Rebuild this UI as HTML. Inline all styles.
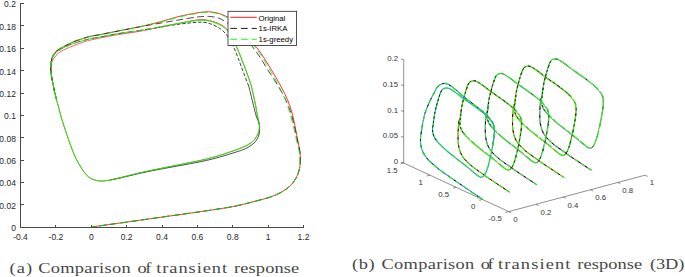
<!DOCTYPE html>
<html><head><meta charset="utf-8"><style>
html,body{margin:0;padding:0;background:#fff;}
body{width:685px;height:277px;overflow:hidden;position:relative;}
svg{position:absolute;left:0;top:0;}
</style></head><body>
<svg width="685" height="277" viewBox="0 0 685 277">

<g stroke="#4a4a4a" stroke-width="1" fill="none" shape-rendering="crispEdges">
<path d="M20.5,3 V227.5 H303.5"/>
<path d="M20.5,227.30 h3"/>
<path d="M20.5,204.92 h3"/>
<path d="M20.5,182.54 h3"/>
<path d="M20.5,160.16 h3"/>
<path d="M20.5,137.78 h3"/>
<path d="M20.5,115.40 h3"/>
<path d="M20.5,93.02 h3"/>
<path d="M20.5,70.64 h3"/>
<path d="M20.5,48.26 h3"/>
<path d="M20.5,25.88 h3"/>
<path d="M20.5,3.50 h3"/>
<path d="M20.50,227.5 v-3"/>
<path d="M55.88,227.5 v-3"/>
<path d="M91.25,227.5 v-3"/>
<path d="M126.62,227.5 v-3"/>
<path d="M162.00,227.5 v-3"/>
<path d="M197.38,227.5 v-3"/>
<path d="M232.75,227.5 v-3"/>
<path d="M268.12,227.5 v-3"/>
<path d="M303.50,227.5 v-3"/>
</g>
<g font-family="Liberation Sans, sans-serif" font-size="8.5" fill="#262626">
<text x="15.9" y="231.20" text-anchor="end">0</text>
<text x="15.9" y="208.82" text-anchor="end">0.02</text>
<text x="15.9" y="186.44" text-anchor="end">0.04</text>
<text x="15.9" y="164.06" text-anchor="end">0.06</text>
<text x="15.9" y="141.68" text-anchor="end">0.08</text>
<text x="15.9" y="119.30" text-anchor="end">0.1</text>
<text x="15.9" y="96.92" text-anchor="end">0.12</text>
<text x="15.9" y="74.54" text-anchor="end">0.14</text>
<text x="15.9" y="52.16" text-anchor="end">0.16</text>
<text x="15.9" y="29.78" text-anchor="end">0.18</text>
<text x="15.9" y="7.40" text-anchor="end">0.2</text>
<text x="20.50" y="240" text-anchor="middle">-0.4</text>
<text x="55.88" y="240" text-anchor="middle">-0.2</text>
<text x="91.25" y="240" text-anchor="middle">0</text>
<text x="126.62" y="240" text-anchor="middle">0.2</text>
<text x="162.00" y="240" text-anchor="middle">0.4</text>
<text x="197.38" y="240" text-anchor="middle">0.6</text>
<text x="232.75" y="240" text-anchor="middle">0.8</text>
<text x="268.12" y="240" text-anchor="middle">1</text>
<text x="303.50" y="240" text-anchor="middle">1.2</text>
</g>
<g fill="none" stroke-width="0.75">
<path d="M91.30,227.00 C97.20,226.18 114.95,223.75 126.70,222.10 C138.45,220.45 150.12,218.75 161.80,217.10 C173.48,215.45 185.43,213.87 196.80,212.20 C208.17,210.53 221.93,208.50 230.00,207.10 C238.07,205.70 240.53,204.90 245.20,203.80 C249.87,202.70 253.87,201.60 258.00,200.50 C262.13,199.40 266.23,198.52 270.00,197.20 C273.77,195.88 277.35,194.38 280.60,192.60 C283.85,190.82 286.97,188.85 289.50,186.50 C292.03,184.15 294.18,181.25 295.80,178.50 C297.42,175.75 298.45,172.92 299.20,170.00 C299.95,167.08 300.20,164.17 300.30,161.00 C300.40,157.83 300.25,154.50 299.80,151.00 C299.35,147.50 298.30,143.67 297.60,140.00 C296.90,136.33 296.48,133.33 295.60,129.00 C294.72,124.67 293.63,118.83 292.30,114.00 C290.97,109.17 289.62,104.83 287.60,100.00 C285.58,95.17 282.88,90.00 280.20,85.00 C277.52,80.00 274.40,74.83 271.50,70.00 C268.60,65.17 265.58,60.17 262.80,56.00 C260.02,51.83 257.57,48.83 254.80,45.00 C252.03,41.17 249.08,36.57 246.20,33.00 C243.32,29.43 240.40,26.13 237.50,23.60 C234.60,21.07 231.78,19.47 228.80,17.80 C225.82,16.13 222.95,14.60 219.60,13.60 C216.25,12.60 212.62,11.90 208.70,11.80 C204.78,11.70 201.22,12.18 196.10,13.00 C190.98,13.82 184.02,15.22 178.00,16.70 C171.98,18.18 166.33,20.23 160.00,21.90 C153.67,23.57 146.67,25.25 140.00,26.70 C133.33,28.15 126.67,29.28 120.00,30.60 C113.33,31.92 105.00,33.63 100.00,34.60 C95.00,35.57 92.50,35.85 90.00,36.40 C87.50,36.95 87.67,37.03 85.00,37.90 C82.33,38.77 77.22,40.32 74.00,41.60 C70.78,42.88 68.30,44.27 65.70,45.60 C63.10,46.93 60.33,48.25 58.40,49.60 C56.47,50.95 55.18,52.20 54.10,53.70 C53.02,55.20 52.43,56.80 51.90,58.60 C51.37,60.40 51.07,62.30 50.90,64.50 C50.73,66.70 50.62,68.88 50.90,71.80 C51.18,74.72 51.98,78.63 52.60,82.00 C53.22,85.37 53.93,89.00 54.60,92.00 C55.27,95.00 56.27,98.67 56.60,100.00" stroke="#ff0000" stroke-width="0.8"/>
<path d="M54.60,92.00 C55.27,95.00 55.90,97.33 56.60,100.00 C57.30,102.67 57.95,104.85 58.80,108.00 C59.65,111.15 60.58,115.15 61.70,118.90 C62.82,122.65 64.30,126.90 65.50,130.50 C66.70,134.10 67.77,137.25 68.90,140.50 C70.03,143.75 71.10,146.98 72.30,150.00 C73.50,153.02 74.65,155.68 76.10,158.60 C77.55,161.52 79.20,164.72 81.00,167.50 C82.80,170.28 84.90,173.30 86.90,175.30 C88.90,177.30 90.58,178.53 93.00,179.50 C95.42,180.47 98.57,181.02 101.40,181.10 C104.23,181.18 106.90,180.55 110.00,180.00 C113.10,179.45 114.83,179.03 120.00,177.80 C125.17,176.57 133.78,174.25 141.00,172.60 C148.22,170.95 155.97,169.40 163.30,167.90 C170.63,166.40 177.77,165.08 185.00,163.60 C192.23,162.12 200.20,160.60 206.70,159.00 C213.20,157.40 218.70,155.67 224.00,154.00 C229.30,152.33 235.50,150.07 238.50,149.00 C241.50,147.93 240.55,148.23 242.00,147.60 C243.45,146.97 245.38,146.25 247.20,145.20 C249.02,144.15 251.42,142.63 252.90,141.30 C254.38,139.97 255.23,138.50 256.10,137.20 C256.97,135.90 257.58,134.70 258.10,133.50 C258.62,132.30 259.00,131.58 259.20,130.00 C259.40,128.42 259.55,126.17 259.30,124.00 C259.05,121.83 258.18,119.33 257.70,117.00 C257.22,114.67 256.83,112.33 256.40,110.00 C255.97,107.67 255.95,107.00 255.10,103.00 C254.25,99.00 252.73,91.17 251.30,86.00 C249.87,80.83 248.18,76.67 246.50,72.00 C244.82,67.33 242.85,62.17 241.20,58.00 C239.55,53.83 238.08,50.33 236.60,47.00 C235.12,43.67 233.77,40.80 232.30,38.00 C230.83,35.20 229.52,32.33 227.80,30.20 C226.08,28.07 224.30,26.62 222.00,25.20 C219.70,23.78 216.83,22.62 214.00,21.70 C211.17,20.78 208.00,19.98 205.00,19.70 C202.00,19.42 200.50,19.37 196.00,20.00 C191.50,20.63 184.00,22.33 178.00,23.50 C172.00,24.67 166.33,25.70 160.00,27.00 C153.67,28.30 146.67,30.08 140.00,31.30 C133.33,32.52 126.67,33.18 120.00,34.30 C113.33,35.42 105.00,37.02 100.00,38.00 C95.00,38.98 92.50,39.62 90.00,40.20 C87.50,40.78 87.67,40.62 85.00,41.50 C82.33,42.38 77.22,44.25 74.00,45.50 C70.78,46.75 68.30,47.75 65.70,49.00 C63.10,50.25 60.12,51.73 58.40,53.00 C56.67,54.27 56.32,55.40 55.35,56.60 C54.38,57.80 53.28,58.80 52.60,60.20 C51.92,61.60 51.52,63.03 51.25,65.00 C50.98,66.97 50.77,69.17 51.00,72.00 C51.23,74.83 52.00,78.67 52.60,82.00 C53.20,85.33 53.93,89.00 54.60,92.00Z" stroke="#ff0000" stroke-width="0.65"/>
<path d="M91.30,227.00 C97.20,226.18 114.95,223.75 126.70,222.10 C138.45,220.45 150.12,218.75 161.80,217.10 C173.48,215.45 185.43,213.87 196.80,212.20 C208.17,210.53 221.93,208.50 230.00,207.10 C238.07,205.70 240.53,204.90 245.20,203.80 C249.87,202.70 253.87,201.60 258.00,200.50 C262.13,199.40 266.23,198.52 270.00,197.20 C273.77,195.88 277.35,194.38 280.60,192.60 C283.85,190.82 286.97,188.85 289.50,186.50 C292.03,184.15 294.18,181.25 295.80,178.50 C297.42,175.75 298.45,172.92 299.20,170.00 C299.95,167.08 300.20,164.17 300.30,161.00 C300.40,157.83 300.30,154.50 299.80,151.00 C299.30,147.50 298.11,143.67 297.30,140.00 C296.50,136.33 295.98,133.33 294.97,129.00 C293.96,124.67 292.75,118.83 291.22,114.00 C289.69,109.17 288.09,104.83 285.80,100.00 C283.51,95.17 280.48,90.00 277.50,85.00 C274.52,80.00 270.95,74.83 267.90,70.00 C264.85,65.17 261.98,60.17 259.20,56.00 C256.42,51.83 253.97,48.83 251.20,45.00 C248.43,41.17 245.30,35.80 242.60,33.00 C239.90,30.20 237.68,29.97 235.00,28.20 C232.32,26.43 229.19,24.07 226.50,22.40 C223.81,20.73 221.80,19.20 218.83,18.20 C215.87,17.20 212.49,16.57 208.70,16.40 C204.91,16.23 201.22,16.54 196.10,17.16 C190.98,17.77 184.02,19.09 178.00,20.10 C171.98,21.11 166.33,22.10 160.00,23.20 C153.67,24.30 146.67,25.47 140.00,26.70 C133.33,27.93 126.67,29.28 120.00,30.60 C113.33,31.92 105.00,33.63 100.00,34.60 C95.00,35.57 92.50,35.85 90.00,36.40 C87.50,36.95 87.67,37.03 85.00,37.90 C82.33,38.77 77.22,40.32 74.00,41.60 C70.78,42.88 68.30,44.27 65.70,45.60 C63.10,46.93 60.33,48.25 58.40,49.60 C56.47,50.95 55.18,52.20 54.10,53.70 C53.02,55.20 52.43,56.80 51.90,58.60 C51.37,60.40 51.07,62.30 50.90,64.50 C50.73,66.70 50.62,68.88 50.90,71.80 C51.18,74.72 51.98,78.63 52.60,82.00 C53.22,85.37 53.93,89.00 54.60,92.00 C55.27,95.00 56.27,98.67 56.60,100.00" stroke="#000000" stroke-width="0.7" stroke-dasharray="7,3.5" stroke-dashoffset="2"/>
<path d="M110.00,180.00 C111.67,179.67 114.83,179.16 120.00,178.00 C125.17,176.84 133.78,174.62 141.00,173.05 C148.22,171.48 155.97,170.00 163.30,168.60 C170.63,167.20 177.77,166.02 185.00,164.65 C192.23,163.28 200.20,161.88 206.70,160.40 C213.20,158.93 218.67,157.33 224.00,155.80 C229.33,154.27 235.62,152.18 238.70,151.20 C241.78,150.22 240.93,150.55 242.50,149.90 C244.07,149.25 246.15,148.47 248.10,147.30 C250.05,146.13 252.62,144.40 254.20,142.90 C255.78,141.40 256.78,139.78 257.60,138.30 C258.42,136.82 258.77,135.38 259.10,134.00 C259.43,132.62 259.57,131.67 259.60,130.00 C259.63,128.33 259.82,126.17 259.30,124.00 C258.78,121.83 257.28,119.33 256.50,117.00 C255.72,114.67 255.20,112.33 254.60,110.00 C254.00,107.67 253.88,107.00 252.90,103.00 C251.92,99.00 249.40,88.83 248.70,86.00" stroke="#000000" stroke-width="0.7"/>
<path d="M248.70,86.00 C247.80,83.67 245.07,76.67 243.30,72.00 C241.53,67.33 239.72,62.17 238.10,58.00 C236.48,53.83 235.07,50.20 233.60,47.00 C232.13,43.80 230.67,41.07 229.30,38.80 C227.93,36.53 226.88,35.07 225.40,33.40 C223.92,31.73 222.43,30.22 220.40,28.80 C218.37,27.38 215.77,25.95 213.20,24.90 C210.63,23.85 207.87,22.92 205.00,22.50 C202.13,22.08 200.50,22.10 196.00,22.40 C191.50,22.70 184.00,23.50 178.00,24.30 C172.00,25.10 163.00,26.72 160.00,27.20" stroke="#000000" stroke-width="0.75" stroke-dasharray="3.5,1.8"/>
<path d="M160.00,27.20 C156.67,27.73 146.67,29.38 140.00,30.40 C133.33,31.42 126.67,32.20 120.00,33.30 C113.33,34.40 105.00,36.08 100.00,37.00 C95.00,37.92 92.50,38.28 90.00,38.80 C87.50,39.32 87.67,39.35 85.00,40.10 C82.33,40.85 77.22,42.20 74.00,43.30 C70.78,44.40 68.30,45.48 65.70,46.70 C63.10,47.92 60.30,49.30 58.40,50.60 C56.50,51.90 55.37,53.10 54.30,54.50 C53.23,55.90 52.55,57.33 52.00,59.00 C51.45,60.67 51.17,62.33 51.00,64.50 C50.83,66.67 50.73,69.08 51.00,72.00 C51.27,74.92 52.00,78.67 52.60,82.00 C53.20,85.33 54.27,90.33 54.60,92.00" stroke="#000000" stroke-width="0.7" stroke-dasharray="6,3"/>
<path d="M91.30,227.00 C97.20,226.18 114.95,223.75 126.70,222.10 C138.45,220.45 150.12,218.75 161.80,217.10 C173.48,215.45 185.43,213.87 196.80,212.20 C208.17,210.53 221.93,208.50 230.00,207.10 C238.07,205.70 240.53,204.90 245.20,203.80 C249.87,202.70 253.87,201.60 258.00,200.50 C262.13,199.40 266.23,198.52 270.00,197.20 C273.77,195.88 277.35,194.38 280.60,192.60 C283.85,190.82 286.97,188.85 289.50,186.50 C292.03,184.15 294.18,181.25 295.80,178.50 C297.42,175.75 298.51,172.92 299.20,170.00 C299.89,167.08 299.98,164.17 299.95,161.00 C299.93,157.83 299.66,154.50 299.07,151.00 C298.49,147.50 297.29,143.67 296.45,140.00 C295.61,136.33 295.08,133.33 294.03,129.00 C292.98,124.67 291.57,118.83 290.15,114.00 C288.73,109.17 287.46,104.83 285.50,100.00 C283.54,95.17 280.98,90.00 278.40,85.00 C275.82,80.00 272.80,74.83 270.00,70.00 C267.20,65.17 264.28,60.17 261.58,56.00 C258.88,51.83 256.36,48.83 253.80,45.00 C251.24,41.17 248.92,36.47 246.20,33.00 C243.48,29.53 240.40,26.63 237.50,24.20 C234.60,21.77 231.78,20.07 228.80,18.40 C225.82,16.73 222.95,15.20 219.60,14.20 C216.25,13.20 212.62,12.50 208.70,12.40 C204.78,12.30 201.22,12.78 196.10,13.60 C190.98,14.42 184.02,15.87 178.00,17.30 C171.98,18.73 166.33,20.63 160.00,22.20 C153.67,23.77 146.67,25.30 140.00,26.70 C133.33,28.10 126.67,29.28 120.00,30.60 C113.33,31.92 105.00,33.63 100.00,34.60 C95.00,35.57 92.50,35.85 90.00,36.40 C87.50,36.95 87.67,37.03 85.00,37.90 C82.33,38.77 77.22,40.32 74.00,41.60 C70.78,42.88 68.30,44.27 65.70,45.60 C63.10,46.93 60.33,48.25 58.40,49.60 C56.47,50.95 55.18,52.20 54.10,53.70 C53.02,55.20 52.43,56.80 51.90,58.60 C51.37,60.40 51.07,62.30 50.90,64.50 C50.73,66.70 50.62,68.88 50.90,71.80 C51.18,74.72 51.98,78.63 52.60,82.00 C53.22,85.37 53.93,89.00 54.60,92.00 C55.27,95.00 56.27,98.67 56.60,100.00" stroke="#10f010" stroke-width="0.85" stroke-dasharray="7,3.5" stroke-dashoffset="2"/>
<path d="M54.60,92.00 C54.93,93.33 55.90,97.33 56.60,100.00 C57.30,102.67 57.95,104.85 58.80,108.00 C59.65,111.15 60.58,115.15 61.70,118.90 C62.82,122.65 64.30,126.90 65.50,130.50 C66.70,134.10 67.77,137.25 68.90,140.50 C70.03,143.75 71.10,146.98 72.30,150.00 C73.50,153.02 74.65,155.68 76.10,158.60 C77.55,161.52 79.20,164.72 81.00,167.50 C82.80,170.28 84.90,173.30 86.90,175.30 C88.90,177.30 90.58,178.53 93.00,179.50 C95.42,180.47 98.57,181.02 101.40,181.10 C104.23,181.18 106.90,180.55 110.00,180.00 C113.10,179.45 114.83,179.03 120.00,177.80 C125.17,176.57 133.78,174.25 141.00,172.60 C148.22,170.95 155.97,169.40 163.30,167.90 C170.63,166.40 177.77,165.08 185.00,163.60 C192.23,162.12 200.20,160.60 206.70,159.00 C213.20,157.40 218.70,155.67 224.00,154.00 C229.30,152.33 235.50,150.07 238.50,149.00 C241.50,147.93 240.55,148.23 242.00,147.60 C243.45,146.97 245.38,146.25 247.20,145.20 C249.02,144.15 251.42,142.63 252.90,141.30 C254.38,139.97 255.23,138.50 256.10,137.20 C256.97,135.90 257.58,134.70 258.10,133.50 C258.62,132.30 259.00,131.58 259.20,130.00 C259.40,128.42 259.55,126.17 259.30,124.00 C259.05,121.83 258.18,119.33 257.70,117.00 C257.22,114.67 256.83,112.33 256.40,110.00 C255.97,107.67 255.95,107.00 255.10,103.00 C254.25,99.00 252.73,91.17 251.30,86.00 C249.87,80.83 248.18,76.67 246.50,72.00 C244.82,67.33 242.85,62.17 241.20,58.00 C239.55,53.83 238.08,50.33 236.60,47.00 C235.12,43.67 233.77,40.67 232.30,38.00 C230.83,35.33 229.52,33.00 227.80,31.00 C226.08,29.00 224.30,27.42 222.00,26.00 C219.70,24.58 216.83,23.42 214.00,22.50 C211.17,21.58 208.00,20.78 205.00,20.50 C202.00,20.22 200.50,20.30 196.00,20.80 C191.50,21.30 184.00,22.47 178.00,23.50 C172.00,24.53 163.00,26.42 160.00,27.00" stroke="#10f010" stroke-width="0.95"/>
<path d="M160.00,27.00 C156.67,27.57 146.67,29.35 140.00,30.40 C133.33,31.45 126.67,32.20 120.00,33.30 C113.33,34.40 105.00,36.08 100.00,37.00 C95.00,37.92 92.50,38.28 90.00,38.80 C87.50,39.32 87.67,39.35 85.00,40.10 C82.33,40.85 77.22,42.20 74.00,43.30 C70.78,44.40 68.30,45.48 65.70,46.70 C63.10,47.92 60.30,49.30 58.40,50.60 C56.50,51.90 55.37,53.10 54.30,54.50 C53.23,55.90 52.55,57.33 52.00,59.00 C51.45,60.67 51.17,62.33 51.00,64.50 C50.83,66.67 50.73,69.08 51.00,72.00 C51.27,74.92 52.00,78.67 52.60,82.00 C53.20,85.33 54.27,90.33 54.60,92.00" stroke="#10f010" stroke-width="0.9" stroke-dasharray="6,2.5" stroke-dashoffset="1"/>
</g>
<rect x="228" y="11.3" width="68.6" height="34.2" fill="#fff" stroke="#262626" stroke-width="0.8"/>
<g stroke-width="0.9">
<path d="M230.3,17.3 H256.8" stroke="#ff0000"/>
<path d="M230.3,28.4 H256.8" stroke="#000" stroke-dasharray="6.7,4"/>
<path d="M230.3,39.3 H256.8" stroke="#00ff00" stroke-dasharray="6.7,4"/>
</g>
<g font-family="Liberation Sans, sans-serif" font-size="7.75" fill="#000">
<text x="258.6" y="20.7">Original</text>
<text x="258.6" y="31.4">1s-IRKA</text>
<text x="258.6" y="41.6">1s-greedy</text>
</g>
<g stroke="#444" stroke-width="0.6" fill="none">
<path d="M403.70,163.00 L508.70,211.60 L645.00,175.20"/>
<path d="M403.70,163.00 L403.70,59.60"/>
<path d="M403.70,163.00 l-2.8,-0.6"/>
<path d="M403.70,137.15 l-2.8,-0.6"/>
<path d="M403.70,111.30 l-2.8,-0.6"/>
<path d="M403.70,85.45 l-2.8,-0.6"/>
<path d="M403.70,59.60 l-2.8,-0.6"/>
<path d="M403.70,163.00 l-3.27,0.87"/>
<path d="M429.95,175.15 l-3.27,0.87"/>
<path d="M456.20,187.30 l-3.27,0.87"/>
<path d="M482.45,199.45 l-3.27,0.87"/>
<path d="M508.70,211.60 l-3.27,0.87"/>
<path d="M508.70,211.60 l2.62,1.22"/>
<path d="M535.96,204.32 l2.62,1.22"/>
<path d="M563.22,197.04 l2.62,1.22"/>
<path d="M590.48,189.76 l2.62,1.22"/>
<path d="M617.74,182.48 l2.62,1.22"/>
<path d="M645.00,175.20 l2.62,1.22"/>
</g>
<g font-family="Liberation Sans, sans-serif" font-size="7.8" fill="#333">
<text x="398" y="164.30" text-anchor="end">0</text>
<text x="398" y="138.45" text-anchor="end">0.05</text>
<text x="398" y="112.60" text-anchor="end">0.1</text>
<text x="398" y="86.75" text-anchor="end">0.15</text>
<text x="398" y="60.90" text-anchor="end">0.2</text>
<text x="397.6" y="173.4" text-anchor="end">1.5</text>
<text x="422.8" y="184.6" text-anchor="end">1</text>
<text x="449.0" y="197.0" text-anchor="end">0.5</text>
<text x="475.3" y="209.0" text-anchor="end">0</text>
<text x="501.8" y="221.2" text-anchor="end">-0.5</text>
<text x="513.2" y="221.7">0</text>
<text x="540.5" y="214.9">0.2</text>
<text x="567.4" y="207.7">0.4</text>
<text x="595.2" y="200.1">0.6</text>
<text x="622.3" y="193.0">0.8</text>
<text x="649.8" y="185.0">1</text>
</g>
<g fill="none">
<path d="M591.49,170.33 C589.74,169.18 584.49,165.71 580.99,163.40 C577.49,161.09 573.55,158.58 570.49,156.47 C567.43,154.37 565.07,152.50 562.62,150.76 C560.16,149.02 557.80,147.59 555.79,146.05 C553.78,144.52 552.29,143.22 550.54,141.55 C548.79,139.88 546.69,137.88 545.29,136.02 C543.89,134.17 542.97,132.54 542.14,130.43 C541.31,128.32 540.70,125.88 540.30,123.37 C539.91,120.86 539.80,118.40 539.78,115.37 C539.75,112.35 539.97,107.97 540.14,105.20 C540.32,102.44 540.50,100.25 540.83,98.80 C541.15,97.35 541.81,97.39 542.08,96.50 C542.36,95.61 542.41,93.96 542.47,93.45" stroke="#c070c8" stroke-width="1.15"/>
<path d="M591.49,170.33 C589.74,169.18 584.49,165.71 580.99,163.40 C577.49,161.09 573.55,158.58 570.49,156.47 C567.43,154.37 565.07,152.50 562.62,150.76 C560.16,149.02 557.80,147.59 555.79,146.05 C553.78,144.52 552.29,143.22 550.54,141.55 C548.79,139.88 546.69,137.88 545.29,136.02 C543.89,134.17 542.97,132.54 542.14,130.43 C541.31,128.32 540.70,125.88 540.30,123.37 C539.91,120.86 539.80,118.40 539.78,115.37 C539.75,112.35 539.97,107.97 540.14,105.20 C540.32,102.44 540.50,100.25 540.83,98.80 C541.15,97.35 541.81,97.39 542.08,96.50 C542.36,95.61 542.41,93.96 542.47,93.45" stroke="#000" stroke-width="0.95" stroke-dasharray="3,5" stroke-dashoffset="3"/>
<path d="M591.49,170.33 C589.74,169.18 584.49,165.71 580.99,163.40 C577.49,161.09 573.55,158.58 570.49,156.47 C567.43,154.37 565.07,152.50 562.62,150.76 C560.16,149.02 557.80,147.59 555.79,146.05 C553.78,144.52 552.29,143.22 550.54,141.55 C548.79,139.88 546.69,137.88 545.29,136.02 C543.89,134.17 542.97,132.54 542.14,130.43 C541.31,128.32 540.70,125.88 540.30,123.37 C539.91,120.86 539.80,118.40 539.78,115.37 C539.75,112.35 539.97,107.97 540.14,105.20 C540.32,102.44 540.50,100.25 540.83,98.80 C541.15,97.35 541.81,97.39 542.08,96.50 C542.36,95.61 542.41,93.96 542.47,93.45" stroke="#11ee11" stroke-width="1.1" stroke-dasharray="4,4"/>
<path d="M602.37,112.85 C602.17,114.15 601.98,115.14 601.77,116.28 C601.57,117.41 601.37,118.33 601.12,119.67 C600.87,121.01 600.59,122.73 600.26,124.31 C599.93,125.89 599.49,127.65 599.13,129.14 C598.78,130.64 598.46,131.95 598.12,133.30 C597.79,134.64 597.47,135.99 597.11,137.22 C596.76,138.45 596.42,139.52 595.99,140.67 C595.56,141.82 595.07,143.07 594.53,144.11 C594.00,145.15 593.37,146.25 592.78,146.90 C592.19,147.55 591.69,147.89 590.97,148.01 C590.25,148.12 589.32,147.94 588.48,147.59 C587.64,147.24 586.84,146.58 585.92,145.90 C585.00,145.22 584.49,144.79 582.96,143.51 C581.42,142.23 578.87,139.98 576.72,138.22 C574.58,136.47 572.28,134.69 570.10,132.99 C567.93,131.29 565.81,129.70 563.66,128.02 C561.52,126.34 559.15,124.55 557.22,122.91 C555.29,121.28 553.66,119.72 552.09,118.23 C550.51,116.73 548.67,114.83 547.78,113.92 C546.89,113.02 547.17,113.29 546.74,112.80 C546.31,112.30 545.74,111.71 545.20,110.97 C544.66,110.24 543.95,109.21 543.51,108.39 C543.07,107.57 542.82,106.77 542.56,106.05 C542.30,105.33 542.12,104.70 541.97,104.07 C541.81,103.44 541.70,103.06 541.64,102.30 C541.58,101.54 541.54,100.48 541.61,99.52 C541.68,98.55 541.94,97.51 542.08,96.50 C542.23,95.49 542.34,94.46 542.47,93.45 C542.60,92.43 542.60,92.12 542.86,90.39 C543.11,88.66 543.56,85.25 543.98,83.06 C544.41,80.87 544.91,79.17 545.41,77.25 C545.91,75.32 546.49,73.21 546.98,71.51 C547.47,69.81 547.91,68.40 548.35,67.06 C548.79,65.72 549.19,64.52 549.62,63.49 C550.06,62.46 550.45,61.56 550.96,60.88 C551.47,60.19 552.00,59.70 552.68,59.36 C553.36,59.02 554.21,58.88 555.06,58.84 C555.90,58.81 556.84,58.88 557.73,59.16 C558.62,59.44 559.06,59.68 560.40,60.53 C561.73,61.38 563.96,62.95 565.74,64.25 C567.52,65.55 569.20,66.94 571.08,68.34 C572.96,69.74 575.04,71.26 577.02,72.66 C579.00,74.06 580.98,75.32 582.96,76.75 C584.94,78.17 587.41,80.10 588.89,81.21 C590.38,82.32 591.12,82.83 591.86,83.41 C592.60,83.99 592.55,83.99 593.35,84.70 C594.14,85.41 595.66,86.74 596.61,87.69 C597.56,88.64 598.30,89.48 599.07,90.40 C599.85,91.32 600.68,92.34 601.24,93.20 C601.80,94.07 602.14,94.78 602.46,95.57 C602.77,96.36 602.98,97.12 603.14,97.96 C603.30,98.81 603.39,99.62 603.44,100.64 C603.49,101.67 603.52,102.80 603.44,104.11 C603.36,105.42 603.14,107.05 602.96,108.51 C602.78,109.97 602.57,111.56 602.37,112.85Z" stroke="#c070c8" stroke-width="1.0" transform="translate(-0.45,0.35)"/>
<path d="M602.37,112.85 C602.17,114.15 601.98,115.14 601.77,116.28 C601.57,117.41 601.37,118.33 601.12,119.67 C600.87,121.01 600.59,122.73 600.26,124.31 C599.93,125.89 599.49,127.65 599.13,129.14 C598.78,130.64 598.46,131.95 598.12,133.30 C597.79,134.64 597.47,135.99 597.11,137.22 C596.76,138.45 596.42,139.52 595.99,140.67 C595.56,141.82 595.07,143.07 594.53,144.11 C594.00,145.15 593.37,146.25 592.78,146.90 C592.19,147.55 591.69,147.89 590.97,148.01 C590.25,148.12 589.32,147.94 588.48,147.59 C587.64,147.24 586.84,146.58 585.92,145.90 C585.00,145.22 584.49,144.79 582.96,143.51 C581.42,142.23 578.87,139.98 576.72,138.22 C574.58,136.47 572.28,134.69 570.10,132.99 C567.93,131.29 565.81,129.70 563.66,128.02 C561.52,126.34 559.15,124.55 557.22,122.91 C555.29,121.28 553.66,119.72 552.09,118.23 C550.51,116.73 548.67,114.83 547.78,113.92 C546.89,113.02 547.17,113.29 546.74,112.80 C546.31,112.30 545.74,111.71 545.20,110.97 C544.66,110.24 543.95,109.21 543.51,108.39 C543.07,107.57 542.82,106.77 542.56,106.05 C542.30,105.33 542.12,104.70 541.97,104.07 C541.81,103.44 541.70,103.06 541.64,102.30 C541.58,101.54 541.54,100.48 541.61,99.52 C541.68,98.55 541.94,97.51 542.08,96.50 C542.23,95.49 542.34,94.46 542.47,93.45 C542.60,92.43 542.60,92.12 542.86,90.39 C543.11,88.66 543.56,85.25 543.98,83.06 C544.41,80.87 544.91,79.17 545.41,77.25 C545.91,75.32 546.49,73.21 546.98,71.51 C547.47,69.81 547.91,68.40 548.35,67.06 C548.79,65.72 549.19,64.52 549.62,63.49 C550.06,62.46 550.45,61.56 550.96,60.88 C551.47,60.19 552.00,59.70 552.68,59.36 C553.36,59.02 554.21,58.88 555.06,58.84 C555.90,58.81 556.84,58.88 557.73,59.16 C558.62,59.44 559.06,59.68 560.40,60.53 C561.73,61.38 563.96,62.95 565.74,64.25 C567.52,65.55 569.20,66.94 571.08,68.34 C572.96,69.74 575.04,71.26 577.02,72.66 C579.00,74.06 580.98,75.32 582.96,76.75 C584.94,78.17 587.41,80.10 588.89,81.21 C590.38,82.32 591.12,82.83 591.86,83.41 C592.60,83.99 592.55,83.99 593.35,84.70 C594.14,85.41 595.66,86.74 596.61,87.69 C597.56,88.64 598.30,89.48 599.07,90.40 C599.85,91.32 600.68,92.34 601.24,93.20 C601.80,94.07 602.14,94.78 602.46,95.57 C602.77,96.36 602.98,97.12 603.14,97.96 C603.30,98.81 603.39,99.62 603.44,100.64 C603.49,101.67 603.52,102.80 603.44,104.11 C603.36,105.42 603.14,107.05 602.96,108.51 C602.78,109.97 602.57,111.56 602.37,112.85Z" stroke="#000" stroke-width="0.9" stroke-dasharray="3,9" stroke-dashoffset="2"/>
<path d="M602.37,112.85 C602.17,114.15 601.98,115.14 601.77,116.28 C601.57,117.41 601.37,118.33 601.12,119.67 C600.87,121.01 600.59,122.73 600.26,124.31 C599.93,125.89 599.49,127.65 599.13,129.14 C598.78,130.64 598.46,131.95 598.12,133.30 C597.79,134.64 597.47,135.99 597.11,137.22 C596.76,138.45 596.42,139.52 595.99,140.67 C595.56,141.82 595.07,143.07 594.53,144.11 C594.00,145.15 593.37,146.25 592.78,146.90 C592.19,147.55 591.69,147.89 590.97,148.01 C590.25,148.12 589.32,147.94 588.48,147.59 C587.64,147.24 586.84,146.58 585.92,145.90 C585.00,145.22 584.49,144.79 582.96,143.51 C581.42,142.23 578.87,139.98 576.72,138.22 C574.58,136.47 572.28,134.69 570.10,132.99 C567.93,131.29 565.81,129.70 563.66,128.02 C561.52,126.34 559.15,124.55 557.22,122.91 C555.29,121.28 553.66,119.72 552.09,118.23 C550.51,116.73 548.67,114.83 547.78,113.92 C546.89,113.02 547.17,113.29 546.74,112.80 C546.31,112.30 545.74,111.71 545.20,110.97 C544.66,110.24 543.95,109.21 543.51,108.39 C543.07,107.57 542.82,106.77 542.56,106.05 C542.30,105.33 542.12,104.70 541.97,104.07 C541.81,103.44 541.70,103.06 541.64,102.30 C541.58,101.54 541.54,100.48 541.61,99.52 C541.68,98.55 541.94,97.51 542.08,96.50 C542.23,95.49 542.34,94.46 542.47,93.45 C542.60,92.43 542.60,92.12 542.86,90.39 C543.11,88.66 543.56,85.25 543.98,83.06 C544.41,80.87 544.91,79.17 545.41,77.25 C545.91,75.32 546.49,73.21 546.98,71.51 C547.47,69.81 547.91,68.40 548.35,67.06 C548.79,65.72 549.19,64.52 549.62,63.49 C550.06,62.46 550.45,61.56 550.96,60.88 C551.47,60.19 552.00,59.70 552.68,59.36 C553.36,59.02 554.21,58.88 555.06,58.84 C555.90,58.81 556.84,58.88 557.73,59.16 C558.62,59.44 559.06,59.68 560.40,60.53 C561.73,61.38 563.96,62.95 565.74,64.25 C567.52,65.55 569.20,66.94 571.08,68.34 C572.96,69.74 575.04,71.26 577.02,72.66 C579.00,74.06 580.98,75.32 582.96,76.75 C584.94,78.17 587.41,80.10 588.89,81.21 C590.38,82.32 591.12,82.83 591.86,83.41 C592.60,83.99 592.55,83.99 593.35,84.70 C594.14,85.41 595.66,86.74 596.61,87.69 C597.56,88.64 598.30,89.48 599.07,90.40 C599.85,91.32 600.68,92.34 601.24,93.20 C601.80,94.07 602.14,94.78 602.46,95.57 C602.77,96.36 602.98,97.12 603.14,97.96 C603.30,98.81 603.39,99.62 603.44,100.64 C603.49,101.67 603.52,102.80 603.44,104.11 C603.36,105.42 603.14,107.05 602.96,108.51 C602.78,109.97 602.57,111.56 602.37,112.85Z" stroke="#1ef01e" stroke-width="1.1" stroke-dasharray="16,1.5"/>
<path d="M545.20,110.97 C544.92,110.54 543.95,109.21 543.51,108.39 C543.07,107.57 542.82,106.77 542.56,106.05 C542.30,105.33 542.12,104.70 541.97,104.07 C541.81,103.44 541.70,103.06 541.64,102.30 C541.58,101.54 541.54,100.48 541.61,99.52 C541.68,98.55 541.94,97.51 542.08,96.50 C542.23,95.49 542.34,94.46 542.47,93.45 C542.60,92.43 542.60,92.12 542.86,90.39 C543.11,88.66 543.56,85.25 543.98,83.06 C544.41,80.87 544.91,79.17 545.41,77.25 C545.91,75.32 546.49,73.21 546.98,71.51 C547.47,69.81 547.91,68.40 548.35,67.06 C548.79,65.72 549.19,64.52 549.62,63.49 C550.06,62.46 550.74,61.31 550.96,60.88" stroke="#000" stroke-width="0.9" stroke-dasharray="2,2.5"/>
</g>
<g fill="none">
<path d="M564.23,177.61 C562.48,176.46 557.23,172.99 553.73,170.68 C550.23,168.37 546.29,165.86 543.23,163.75 C540.17,161.65 537.81,159.78 535.36,158.04 C532.90,156.30 530.54,154.87 528.53,153.33 C526.52,151.80 525.03,150.50 523.28,148.83 C521.53,147.16 519.43,145.16 518.03,143.30 C516.63,141.45 515.71,139.82 514.88,137.71 C514.05,135.60 513.44,133.16 513.04,130.65 C512.65,128.14 512.54,125.68 512.52,122.65 C512.49,119.63 512.71,115.25 512.88,112.48 C513.06,109.72 513.24,107.53 513.57,106.08 C513.89,104.63 514.55,104.67 514.82,103.78 C515.10,102.89 515.15,101.24 515.21,100.73" stroke="#e0943c" stroke-width="1.15"/>
<path d="M564.23,177.61 C562.48,176.46 557.23,172.99 553.73,170.68 C550.23,168.37 546.29,165.86 543.23,163.75 C540.17,161.65 537.81,159.78 535.36,158.04 C532.90,156.30 530.54,154.87 528.53,153.33 C526.52,151.80 525.03,150.50 523.28,148.83 C521.53,147.16 519.43,145.16 518.03,143.30 C516.63,141.45 515.71,139.82 514.88,137.71 C514.05,135.60 513.44,133.16 513.04,130.65 C512.65,128.14 512.54,125.68 512.52,122.65 C512.49,119.63 512.71,115.25 512.88,112.48 C513.06,109.72 513.24,107.53 513.57,106.08 C513.89,104.63 514.55,104.67 514.82,103.78 C515.10,102.89 515.15,101.24 515.21,100.73" stroke="#000" stroke-width="0.95" stroke-dasharray="3,5" stroke-dashoffset="3"/>
<path d="M564.23,177.61 C562.48,176.46 557.23,172.99 553.73,170.68 C550.23,168.37 546.29,165.86 543.23,163.75 C540.17,161.65 537.81,159.78 535.36,158.04 C532.90,156.30 530.54,154.87 528.53,153.33 C526.52,151.80 525.03,150.50 523.28,148.83 C521.53,147.16 519.43,145.16 518.03,143.30 C516.63,141.45 515.71,139.82 514.88,137.71 C514.05,135.60 513.44,133.16 513.04,130.65 C512.65,128.14 512.54,125.68 512.52,122.65 C512.49,119.63 512.71,115.25 512.88,112.48 C513.06,109.72 513.24,107.53 513.57,106.08 C513.89,104.63 514.55,104.67 514.82,103.78 C515.10,102.89 515.15,101.24 515.21,100.73" stroke="#11ee11" stroke-width="1.1" stroke-dasharray="4,4"/>
<path d="M575.11,120.13 C574.91,121.43 574.72,122.42 574.51,123.56 C574.31,124.69 574.11,125.61 573.86,126.95 C573.61,128.29 573.33,130.01 573.00,131.59 C572.67,133.17 572.23,134.93 571.87,136.42 C571.52,137.92 571.20,139.23 570.86,140.58 C570.53,141.92 570.21,143.27 569.85,144.50 C569.50,145.73 569.16,146.80 568.73,147.95 C568.30,149.10 567.81,150.35 567.27,151.39 C566.74,152.43 566.11,153.53 565.52,154.18 C564.93,154.83 564.43,155.17 563.71,155.29 C562.99,155.40 562.06,155.22 561.22,154.87 C560.38,154.52 559.58,153.86 558.66,153.18 C557.74,152.50 557.23,152.07 555.70,150.79 C554.16,149.51 551.61,147.26 549.46,145.50 C547.32,143.75 545.02,141.97 542.84,140.27 C540.67,138.57 538.55,136.98 536.40,135.30 C534.26,133.62 531.89,131.83 529.96,130.19 C528.03,128.56 526.40,127.00 524.83,125.51 C523.25,124.01 521.41,122.11 520.52,121.20 C519.63,120.30 519.91,120.57 519.48,120.08 C519.05,119.58 518.48,118.99 517.94,118.25 C517.40,117.52 516.69,116.49 516.25,115.67 C515.81,114.85 515.56,114.05 515.30,113.33 C515.04,112.61 514.86,111.98 514.71,111.35 C514.55,110.72 514.44,110.34 514.38,109.58 C514.32,108.82 514.28,107.76 514.35,106.80 C514.42,105.83 514.68,104.79 514.82,103.78 C514.97,102.77 515.08,101.74 515.21,100.73 C515.34,99.71 515.34,99.40 515.60,97.67 C515.85,95.94 516.30,92.53 516.72,90.34 C517.15,88.15 517.65,86.45 518.15,84.53 C518.65,82.60 519.23,80.49 519.72,78.79 C520.21,77.09 520.65,75.68 521.09,74.34 C521.53,73.00 521.93,71.80 522.36,70.77 C522.80,69.74 523.19,68.84 523.70,68.16 C524.21,67.47 524.74,66.98 525.42,66.64 C526.10,66.30 526.95,66.16 527.80,66.12 C528.64,66.09 529.58,66.16 530.47,66.44 C531.36,66.72 531.80,66.96 533.14,67.81 C534.47,68.66 536.70,70.23 538.48,71.53 C540.26,72.83 541.94,74.22 543.82,75.62 C545.70,77.02 547.78,78.54 549.76,79.94 C551.74,81.34 553.72,82.60 555.70,84.03 C557.68,85.45 560.15,87.38 561.63,88.49 C563.12,89.60 563.86,90.11 564.60,90.69 C565.34,91.27 565.29,91.27 566.09,91.98 C566.88,92.69 568.40,94.02 569.35,94.97 C570.30,95.92 571.04,96.76 571.81,97.68 C572.59,98.60 573.42,99.62 573.98,100.48 C574.54,101.35 574.88,102.06 575.20,102.85 C575.51,103.64 575.72,104.40 575.88,105.24 C576.04,106.09 576.13,106.90 576.18,107.92 C576.23,108.95 576.26,110.08 576.18,111.39 C576.10,112.70 575.88,114.33 575.70,115.79 C575.52,117.25 575.31,118.84 575.11,120.13Z" stroke="#e0943c" stroke-width="1.0" transform="translate(-0.45,0.35)"/>
<path d="M575.11,120.13 C574.91,121.43 574.72,122.42 574.51,123.56 C574.31,124.69 574.11,125.61 573.86,126.95 C573.61,128.29 573.33,130.01 573.00,131.59 C572.67,133.17 572.23,134.93 571.87,136.42 C571.52,137.92 571.20,139.23 570.86,140.58 C570.53,141.92 570.21,143.27 569.85,144.50 C569.50,145.73 569.16,146.80 568.73,147.95 C568.30,149.10 567.81,150.35 567.27,151.39 C566.74,152.43 566.11,153.53 565.52,154.18 C564.93,154.83 564.43,155.17 563.71,155.29 C562.99,155.40 562.06,155.22 561.22,154.87 C560.38,154.52 559.58,153.86 558.66,153.18 C557.74,152.50 557.23,152.07 555.70,150.79 C554.16,149.51 551.61,147.26 549.46,145.50 C547.32,143.75 545.02,141.97 542.84,140.27 C540.67,138.57 538.55,136.98 536.40,135.30 C534.26,133.62 531.89,131.83 529.96,130.19 C528.03,128.56 526.40,127.00 524.83,125.51 C523.25,124.01 521.41,122.11 520.52,121.20 C519.63,120.30 519.91,120.57 519.48,120.08 C519.05,119.58 518.48,118.99 517.94,118.25 C517.40,117.52 516.69,116.49 516.25,115.67 C515.81,114.85 515.56,114.05 515.30,113.33 C515.04,112.61 514.86,111.98 514.71,111.35 C514.55,110.72 514.44,110.34 514.38,109.58 C514.32,108.82 514.28,107.76 514.35,106.80 C514.42,105.83 514.68,104.79 514.82,103.78 C514.97,102.77 515.08,101.74 515.21,100.73 C515.34,99.71 515.34,99.40 515.60,97.67 C515.85,95.94 516.30,92.53 516.72,90.34 C517.15,88.15 517.65,86.45 518.15,84.53 C518.65,82.60 519.23,80.49 519.72,78.79 C520.21,77.09 520.65,75.68 521.09,74.34 C521.53,73.00 521.93,71.80 522.36,70.77 C522.80,69.74 523.19,68.84 523.70,68.16 C524.21,67.47 524.74,66.98 525.42,66.64 C526.10,66.30 526.95,66.16 527.80,66.12 C528.64,66.09 529.58,66.16 530.47,66.44 C531.36,66.72 531.80,66.96 533.14,67.81 C534.47,68.66 536.70,70.23 538.48,71.53 C540.26,72.83 541.94,74.22 543.82,75.62 C545.70,77.02 547.78,78.54 549.76,79.94 C551.74,81.34 553.72,82.60 555.70,84.03 C557.68,85.45 560.15,87.38 561.63,88.49 C563.12,89.60 563.86,90.11 564.60,90.69 C565.34,91.27 565.29,91.27 566.09,91.98 C566.88,92.69 568.40,94.02 569.35,94.97 C570.30,95.92 571.04,96.76 571.81,97.68 C572.59,98.60 573.42,99.62 573.98,100.48 C574.54,101.35 574.88,102.06 575.20,102.85 C575.51,103.64 575.72,104.40 575.88,105.24 C576.04,106.09 576.13,106.90 576.18,107.92 C576.23,108.95 576.26,110.08 576.18,111.39 C576.10,112.70 575.88,114.33 575.70,115.79 C575.52,117.25 575.31,118.84 575.11,120.13Z" stroke="#000" stroke-width="0.9" stroke-dasharray="3,9" stroke-dashoffset="2"/>
<path d="M575.11,120.13 C574.91,121.43 574.72,122.42 574.51,123.56 C574.31,124.69 574.11,125.61 573.86,126.95 C573.61,128.29 573.33,130.01 573.00,131.59 C572.67,133.17 572.23,134.93 571.87,136.42 C571.52,137.92 571.20,139.23 570.86,140.58 C570.53,141.92 570.21,143.27 569.85,144.50 C569.50,145.73 569.16,146.80 568.73,147.95 C568.30,149.10 567.81,150.35 567.27,151.39 C566.74,152.43 566.11,153.53 565.52,154.18 C564.93,154.83 564.43,155.17 563.71,155.29 C562.99,155.40 562.06,155.22 561.22,154.87 C560.38,154.52 559.58,153.86 558.66,153.18 C557.74,152.50 557.23,152.07 555.70,150.79 C554.16,149.51 551.61,147.26 549.46,145.50 C547.32,143.75 545.02,141.97 542.84,140.27 C540.67,138.57 538.55,136.98 536.40,135.30 C534.26,133.62 531.89,131.83 529.96,130.19 C528.03,128.56 526.40,127.00 524.83,125.51 C523.25,124.01 521.41,122.11 520.52,121.20 C519.63,120.30 519.91,120.57 519.48,120.08 C519.05,119.58 518.48,118.99 517.94,118.25 C517.40,117.52 516.69,116.49 516.25,115.67 C515.81,114.85 515.56,114.05 515.30,113.33 C515.04,112.61 514.86,111.98 514.71,111.35 C514.55,110.72 514.44,110.34 514.38,109.58 C514.32,108.82 514.28,107.76 514.35,106.80 C514.42,105.83 514.68,104.79 514.82,103.78 C514.97,102.77 515.08,101.74 515.21,100.73 C515.34,99.71 515.34,99.40 515.60,97.67 C515.85,95.94 516.30,92.53 516.72,90.34 C517.15,88.15 517.65,86.45 518.15,84.53 C518.65,82.60 519.23,80.49 519.72,78.79 C520.21,77.09 520.65,75.68 521.09,74.34 C521.53,73.00 521.93,71.80 522.36,70.77 C522.80,69.74 523.19,68.84 523.70,68.16 C524.21,67.47 524.74,66.98 525.42,66.64 C526.10,66.30 526.95,66.16 527.80,66.12 C528.64,66.09 529.58,66.16 530.47,66.44 C531.36,66.72 531.80,66.96 533.14,67.81 C534.47,68.66 536.70,70.23 538.48,71.53 C540.26,72.83 541.94,74.22 543.82,75.62 C545.70,77.02 547.78,78.54 549.76,79.94 C551.74,81.34 553.72,82.60 555.70,84.03 C557.68,85.45 560.15,87.38 561.63,88.49 C563.12,89.60 563.86,90.11 564.60,90.69 C565.34,91.27 565.29,91.27 566.09,91.98 C566.88,92.69 568.40,94.02 569.35,94.97 C570.30,95.92 571.04,96.76 571.81,97.68 C572.59,98.60 573.42,99.62 573.98,100.48 C574.54,101.35 574.88,102.06 575.20,102.85 C575.51,103.64 575.72,104.40 575.88,105.24 C576.04,106.09 576.13,106.90 576.18,107.92 C576.23,108.95 576.26,110.08 576.18,111.39 C576.10,112.70 575.88,114.33 575.70,115.79 C575.52,117.25 575.31,118.84 575.11,120.13Z" stroke="#1ef01e" stroke-width="1.1" stroke-dasharray="16,1.5"/>
<path d="M523.70,68.16 C523.99,67.90 524.74,66.98 525.42,66.64 C526.10,66.30 526.95,66.16 527.80,66.12 C528.64,66.09 529.58,66.16 530.47,66.44 C531.36,66.72 531.80,66.96 533.14,67.81 C534.47,68.66 536.70,70.23 538.48,71.53 C540.26,72.83 541.94,74.22 543.82,75.62 C545.70,77.02 547.78,78.54 549.76,79.94 C551.74,81.34 553.72,82.60 555.70,84.03 C557.68,85.45 560.15,87.38 561.63,88.49 C563.12,89.60 563.86,90.11 564.60,90.69 C565.34,91.27 565.29,91.27 566.09,91.98 C566.88,92.69 568.40,94.02 569.35,94.97 C570.30,95.92 571.40,97.23 571.81,97.68" stroke="#000" stroke-width="0.8" stroke-dasharray="2.5,2.5" opacity="0.8"/>
<path d="M576.18,107.92 C576.18,108.50 576.26,110.08 576.18,111.39 C576.10,112.70 575.88,114.33 575.70,115.79 C575.52,117.25 575.31,118.84 575.11,120.13 C574.91,121.43 574.72,122.42 574.51,123.56 C574.31,124.69 574.11,125.61 573.86,126.95 C573.61,128.29 573.33,130.01 573.00,131.59 C572.67,133.17 572.23,134.93 571.87,136.42 C571.52,137.92 571.20,139.23 570.86,140.58 C570.53,141.92 570.21,143.27 569.85,144.50 C569.50,145.73 569.16,146.80 568.73,147.95 C568.30,149.10 567.81,150.35 567.27,151.39 C566.74,152.43 565.81,153.72 565.52,154.18" stroke="#000" stroke-width="0.8" stroke-dasharray="2.5,3" opacity="0.85"/>
<path d="M517.94,118.25 C517.66,117.82 516.69,116.49 516.25,115.67 C515.81,114.85 515.56,114.05 515.30,113.33 C515.04,112.61 514.86,111.98 514.71,111.35 C514.55,110.72 514.44,110.34 514.38,109.58 C514.32,108.82 514.28,107.76 514.35,106.80 C514.42,105.83 514.68,104.79 514.82,103.78 C514.97,102.77 515.08,101.74 515.21,100.73 C515.34,99.71 515.34,99.40 515.60,97.67 C515.85,95.94 516.30,92.53 516.72,90.34 C517.15,88.15 517.65,86.45 518.15,84.53 C518.65,82.60 519.23,80.49 519.72,78.79 C520.21,77.09 520.65,75.68 521.09,74.34 C521.53,73.00 521.93,71.80 522.36,70.77 C522.80,69.74 523.48,68.59 523.70,68.16" stroke="#000" stroke-width="0.9" stroke-dasharray="2,2.5"/>
</g>
<g fill="none">
<path d="M536.97,184.89 C535.22,183.74 529.97,180.27 526.47,177.96 C522.97,175.65 519.03,173.14 515.97,171.03 C512.91,168.93 510.55,167.06 508.10,165.32 C505.65,163.58 503.28,162.15 501.27,160.61 C499.26,159.08 497.77,157.78 496.02,156.11 C494.27,154.44 492.17,152.44 490.77,150.58 C489.37,148.73 488.45,147.10 487.62,144.99 C486.79,142.88 486.18,140.44 485.78,137.93 C485.39,135.42 485.28,132.96 485.26,129.93 C485.23,126.91 485.45,122.53 485.62,119.76 C485.80,117.00 485.98,114.81 486.31,113.36 C486.63,111.91 487.29,111.95 487.56,111.06 C487.84,110.17 487.89,108.52 487.95,108.01" stroke="#c070c8" stroke-width="1.15"/>
<path d="M536.97,184.89 C535.22,183.74 529.97,180.27 526.47,177.96 C522.97,175.65 519.03,173.14 515.97,171.03 C512.91,168.93 510.55,167.06 508.10,165.32 C505.65,163.58 503.28,162.15 501.27,160.61 C499.26,159.08 497.77,157.78 496.02,156.11 C494.27,154.44 492.17,152.44 490.77,150.58 C489.37,148.73 488.45,147.10 487.62,144.99 C486.79,142.88 486.18,140.44 485.78,137.93 C485.39,135.42 485.28,132.96 485.26,129.93 C485.23,126.91 485.45,122.53 485.62,119.76 C485.80,117.00 485.98,114.81 486.31,113.36 C486.63,111.91 487.29,111.95 487.56,111.06 C487.84,110.17 487.89,108.52 487.95,108.01" stroke="#000" stroke-width="0.95" stroke-dasharray="3,5" stroke-dashoffset="3"/>
<path d="M536.97,184.89 C535.22,183.74 529.97,180.27 526.47,177.96 C522.97,175.65 519.03,173.14 515.97,171.03 C512.91,168.93 510.55,167.06 508.10,165.32 C505.65,163.58 503.28,162.15 501.27,160.61 C499.26,159.08 497.77,157.78 496.02,156.11 C494.27,154.44 492.17,152.44 490.77,150.58 C489.37,148.73 488.45,147.10 487.62,144.99 C486.79,142.88 486.18,140.44 485.78,137.93 C485.39,135.42 485.28,132.96 485.26,129.93 C485.23,126.91 485.45,122.53 485.62,119.76 C485.80,117.00 485.98,114.81 486.31,113.36 C486.63,111.91 487.29,111.95 487.56,111.06 C487.84,110.17 487.89,108.52 487.95,108.01" stroke="#11ee11" stroke-width="1.1" stroke-dasharray="4,4"/>
<path d="M547.85,127.41 C547.65,128.71 547.46,129.70 547.25,130.84 C547.05,131.97 546.85,132.89 546.60,134.23 C546.35,135.57 546.07,137.29 545.74,138.87 C545.41,140.45 544.97,142.21 544.61,143.70 C544.26,145.20 543.94,146.51 543.60,147.86 C543.27,149.20 542.95,150.55 542.59,151.78 C542.24,153.01 541.90,154.08 541.47,155.23 C541.04,156.38 540.55,157.63 540.01,158.67 C539.48,159.71 538.85,160.81 538.26,161.46 C537.67,162.11 537.17,162.45 536.45,162.57 C535.73,162.68 534.80,162.50 533.96,162.15 C533.12,161.80 532.32,161.14 531.40,160.46 C530.48,159.78 529.97,159.35 528.44,158.07 C526.90,156.79 524.35,154.54 522.20,152.78 C520.06,151.03 517.76,149.25 515.58,147.55 C513.41,145.85 511.29,144.26 509.14,142.58 C507.00,140.90 504.63,139.11 502.70,137.47 C500.77,135.84 499.14,134.28 497.57,132.79 C495.99,131.29 494.15,129.39 493.26,128.48 C492.37,127.58 492.65,127.85 492.22,127.36 C491.79,126.86 491.22,126.27 490.68,125.53 C490.14,124.80 489.43,123.77 488.99,122.95 C488.55,122.13 488.30,121.33 488.04,120.61 C487.78,119.89 487.60,119.26 487.45,118.63 C487.29,118.00 487.18,117.62 487.12,116.86 C487.06,116.10 487.02,115.04 487.09,114.08 C487.16,113.11 487.42,112.07 487.56,111.06 C487.71,110.05 487.82,109.02 487.95,108.01 C488.08,106.99 488.08,106.68 488.34,104.95 C488.59,103.22 489.04,99.81 489.46,97.62 C489.89,95.43 490.39,93.73 490.89,91.81 C491.39,89.88 491.97,87.77 492.46,86.07 C492.95,84.37 493.39,82.96 493.83,81.62 C494.27,80.28 494.67,79.08 495.10,78.05 C495.54,77.02 495.93,76.12 496.44,75.44 C496.95,74.75 497.48,74.26 498.16,73.92 C498.84,73.58 499.69,73.44 500.54,73.40 C501.38,73.37 502.32,73.44 503.21,73.72 C504.10,74.00 504.54,74.24 505.88,75.09 C507.21,75.94 509.44,77.51 511.22,78.81 C513.00,80.11 514.68,81.50 516.56,82.90 C518.44,84.30 520.52,85.82 522.50,87.22 C524.48,88.62 526.46,89.88 528.44,91.31 C530.42,92.73 532.89,94.66 534.37,95.77 C535.86,96.88 536.60,97.39 537.34,97.97 C538.08,98.55 538.03,98.55 538.83,99.26 C539.62,99.97 541.14,101.30 542.09,102.25 C543.04,103.20 543.78,104.04 544.55,104.96 C545.33,105.88 546.16,106.90 546.72,107.76 C547.28,108.63 547.62,109.34 547.94,110.13 C548.25,110.92 548.46,111.68 548.62,112.52 C548.78,113.37 548.87,114.18 548.92,115.20 C548.97,116.23 549.00,117.36 548.92,118.67 C548.84,119.98 548.62,121.61 548.44,123.07 C548.26,124.53 548.05,126.12 547.85,127.41Z" stroke="#c070c8" stroke-width="1.0" transform="translate(-0.45,0.35)"/>
<path d="M547.85,127.41 C547.65,128.71 547.46,129.70 547.25,130.84 C547.05,131.97 546.85,132.89 546.60,134.23 C546.35,135.57 546.07,137.29 545.74,138.87 C545.41,140.45 544.97,142.21 544.61,143.70 C544.26,145.20 543.94,146.51 543.60,147.86 C543.27,149.20 542.95,150.55 542.59,151.78 C542.24,153.01 541.90,154.08 541.47,155.23 C541.04,156.38 540.55,157.63 540.01,158.67 C539.48,159.71 538.85,160.81 538.26,161.46 C537.67,162.11 537.17,162.45 536.45,162.57 C535.73,162.68 534.80,162.50 533.96,162.15 C533.12,161.80 532.32,161.14 531.40,160.46 C530.48,159.78 529.97,159.35 528.44,158.07 C526.90,156.79 524.35,154.54 522.20,152.78 C520.06,151.03 517.76,149.25 515.58,147.55 C513.41,145.85 511.29,144.26 509.14,142.58 C507.00,140.90 504.63,139.11 502.70,137.47 C500.77,135.84 499.14,134.28 497.57,132.79 C495.99,131.29 494.15,129.39 493.26,128.48 C492.37,127.58 492.65,127.85 492.22,127.36 C491.79,126.86 491.22,126.27 490.68,125.53 C490.14,124.80 489.43,123.77 488.99,122.95 C488.55,122.13 488.30,121.33 488.04,120.61 C487.78,119.89 487.60,119.26 487.45,118.63 C487.29,118.00 487.18,117.62 487.12,116.86 C487.06,116.10 487.02,115.04 487.09,114.08 C487.16,113.11 487.42,112.07 487.56,111.06 C487.71,110.05 487.82,109.02 487.95,108.01 C488.08,106.99 488.08,106.68 488.34,104.95 C488.59,103.22 489.04,99.81 489.46,97.62 C489.89,95.43 490.39,93.73 490.89,91.81 C491.39,89.88 491.97,87.77 492.46,86.07 C492.95,84.37 493.39,82.96 493.83,81.62 C494.27,80.28 494.67,79.08 495.10,78.05 C495.54,77.02 495.93,76.12 496.44,75.44 C496.95,74.75 497.48,74.26 498.16,73.92 C498.84,73.58 499.69,73.44 500.54,73.40 C501.38,73.37 502.32,73.44 503.21,73.72 C504.10,74.00 504.54,74.24 505.88,75.09 C507.21,75.94 509.44,77.51 511.22,78.81 C513.00,80.11 514.68,81.50 516.56,82.90 C518.44,84.30 520.52,85.82 522.50,87.22 C524.48,88.62 526.46,89.88 528.44,91.31 C530.42,92.73 532.89,94.66 534.37,95.77 C535.86,96.88 536.60,97.39 537.34,97.97 C538.08,98.55 538.03,98.55 538.83,99.26 C539.62,99.97 541.14,101.30 542.09,102.25 C543.04,103.20 543.78,104.04 544.55,104.96 C545.33,105.88 546.16,106.90 546.72,107.76 C547.28,108.63 547.62,109.34 547.94,110.13 C548.25,110.92 548.46,111.68 548.62,112.52 C548.78,113.37 548.87,114.18 548.92,115.20 C548.97,116.23 549.00,117.36 548.92,118.67 C548.84,119.98 548.62,121.61 548.44,123.07 C548.26,124.53 548.05,126.12 547.85,127.41Z" stroke="#000" stroke-width="0.9" stroke-dasharray="3,9" stroke-dashoffset="2"/>
<path d="M547.85,127.41 C547.65,128.71 547.46,129.70 547.25,130.84 C547.05,131.97 546.85,132.89 546.60,134.23 C546.35,135.57 546.07,137.29 545.74,138.87 C545.41,140.45 544.97,142.21 544.61,143.70 C544.26,145.20 543.94,146.51 543.60,147.86 C543.27,149.20 542.95,150.55 542.59,151.78 C542.24,153.01 541.90,154.08 541.47,155.23 C541.04,156.38 540.55,157.63 540.01,158.67 C539.48,159.71 538.85,160.81 538.26,161.46 C537.67,162.11 537.17,162.45 536.45,162.57 C535.73,162.68 534.80,162.50 533.96,162.15 C533.12,161.80 532.32,161.14 531.40,160.46 C530.48,159.78 529.97,159.35 528.44,158.07 C526.90,156.79 524.35,154.54 522.20,152.78 C520.06,151.03 517.76,149.25 515.58,147.55 C513.41,145.85 511.29,144.26 509.14,142.58 C507.00,140.90 504.63,139.11 502.70,137.47 C500.77,135.84 499.14,134.28 497.57,132.79 C495.99,131.29 494.15,129.39 493.26,128.48 C492.37,127.58 492.65,127.85 492.22,127.36 C491.79,126.86 491.22,126.27 490.68,125.53 C490.14,124.80 489.43,123.77 488.99,122.95 C488.55,122.13 488.30,121.33 488.04,120.61 C487.78,119.89 487.60,119.26 487.45,118.63 C487.29,118.00 487.18,117.62 487.12,116.86 C487.06,116.10 487.02,115.04 487.09,114.08 C487.16,113.11 487.42,112.07 487.56,111.06 C487.71,110.05 487.82,109.02 487.95,108.01 C488.08,106.99 488.08,106.68 488.34,104.95 C488.59,103.22 489.04,99.81 489.46,97.62 C489.89,95.43 490.39,93.73 490.89,91.81 C491.39,89.88 491.97,87.77 492.46,86.07 C492.95,84.37 493.39,82.96 493.83,81.62 C494.27,80.28 494.67,79.08 495.10,78.05 C495.54,77.02 495.93,76.12 496.44,75.44 C496.95,74.75 497.48,74.26 498.16,73.92 C498.84,73.58 499.69,73.44 500.54,73.40 C501.38,73.37 502.32,73.44 503.21,73.72 C504.10,74.00 504.54,74.24 505.88,75.09 C507.21,75.94 509.44,77.51 511.22,78.81 C513.00,80.11 514.68,81.50 516.56,82.90 C518.44,84.30 520.52,85.82 522.50,87.22 C524.48,88.62 526.46,89.88 528.44,91.31 C530.42,92.73 532.89,94.66 534.37,95.77 C535.86,96.88 536.60,97.39 537.34,97.97 C538.08,98.55 538.03,98.55 538.83,99.26 C539.62,99.97 541.14,101.30 542.09,102.25 C543.04,103.20 543.78,104.04 544.55,104.96 C545.33,105.88 546.16,106.90 546.72,107.76 C547.28,108.63 547.62,109.34 547.94,110.13 C548.25,110.92 548.46,111.68 548.62,112.52 C548.78,113.37 548.87,114.18 548.92,115.20 C548.97,116.23 549.00,117.36 548.92,118.67 C548.84,119.98 548.62,121.61 548.44,123.07 C548.26,124.53 548.05,126.12 547.85,127.41Z" stroke="#1ef01e" stroke-width="1.1" stroke-dasharray="16,1.5"/>
<path d="M548.92,115.20 C548.92,115.78 549.00,117.36 548.92,118.67 C548.84,119.98 548.62,121.61 548.44,123.07 C548.26,124.53 548.05,126.12 547.85,127.41 C547.65,128.71 547.46,129.70 547.25,130.84 C547.05,131.97 546.85,132.89 546.60,134.23 C546.35,135.57 546.07,137.29 545.74,138.87 C545.41,140.45 544.97,142.21 544.61,143.70 C544.26,145.20 543.94,146.51 543.60,147.86 C543.27,149.20 542.95,150.55 542.59,151.78 C542.24,153.01 541.90,154.08 541.47,155.23 C541.04,156.38 540.55,157.63 540.01,158.67 C539.48,159.71 538.55,161.00 538.26,161.46" stroke="#000" stroke-width="0.8" stroke-dasharray="2.5,6" opacity="0.85"/>
<path d="M490.68,125.53 C490.40,125.10 489.43,123.77 488.99,122.95 C488.55,122.13 488.30,121.33 488.04,120.61 C487.78,119.89 487.60,119.26 487.45,118.63 C487.29,118.00 487.18,117.62 487.12,116.86 C487.06,116.10 487.02,115.04 487.09,114.08 C487.16,113.11 487.42,112.07 487.56,111.06 C487.71,110.05 487.82,109.02 487.95,108.01 C488.08,106.99 488.08,106.68 488.34,104.95 C488.59,103.22 489.04,99.81 489.46,97.62 C489.89,95.43 490.39,93.73 490.89,91.81 C491.39,89.88 491.97,87.77 492.46,86.07 C492.95,84.37 493.39,82.96 493.83,81.62 C494.27,80.28 494.67,79.08 495.10,78.05 C495.54,77.02 496.22,75.87 496.44,75.44" stroke="#000" stroke-width="0.9" stroke-dasharray="2,2.5"/>
</g>
<g fill="none">
<path d="M509.71,192.17 C507.96,191.02 502.71,187.55 499.21,185.24 C495.71,182.93 491.77,180.42 488.71,178.31 C485.65,176.21 483.29,174.34 480.84,172.60 C478.39,170.86 476.02,169.43 474.01,167.89 C472.00,166.36 470.51,165.06 468.76,163.39 C467.01,161.72 464.91,159.72 463.51,157.86 C462.11,156.01 461.19,154.38 460.36,152.27 C459.53,150.16 458.92,147.72 458.52,145.21 C458.13,142.70 458.02,140.24 458.00,137.21 C457.97,134.19 458.19,129.81 458.37,127.04 C458.54,124.28 458.72,122.09 459.05,120.64 C459.37,119.19 460.03,119.23 460.30,118.34 C460.58,117.45 460.63,115.80 460.69,115.29" stroke="#e0943c" stroke-width="1.15"/>
<path d="M509.71,192.17 C507.96,191.02 502.71,187.55 499.21,185.24 C495.71,182.93 491.77,180.42 488.71,178.31 C485.65,176.21 483.29,174.34 480.84,172.60 C478.39,170.86 476.02,169.43 474.01,167.89 C472.00,166.36 470.51,165.06 468.76,163.39 C467.01,161.72 464.91,159.72 463.51,157.86 C462.11,156.01 461.19,154.38 460.36,152.27 C459.53,150.16 458.92,147.72 458.52,145.21 C458.13,142.70 458.02,140.24 458.00,137.21 C457.97,134.19 458.19,129.81 458.37,127.04 C458.54,124.28 458.72,122.09 459.05,120.64 C459.37,119.19 460.03,119.23 460.30,118.34 C460.58,117.45 460.63,115.80 460.69,115.29" stroke="#000" stroke-width="0.95" stroke-dasharray="3,5" stroke-dashoffset="3"/>
<path d="M509.71,192.17 C507.96,191.02 502.71,187.55 499.21,185.24 C495.71,182.93 491.77,180.42 488.71,178.31 C485.65,176.21 483.29,174.34 480.84,172.60 C478.39,170.86 476.02,169.43 474.01,167.89 C472.00,166.36 470.51,165.06 468.76,163.39 C467.01,161.72 464.91,159.72 463.51,157.86 C462.11,156.01 461.19,154.38 460.36,152.27 C459.53,150.16 458.92,147.72 458.52,145.21 C458.13,142.70 458.02,140.24 458.00,137.21 C457.97,134.19 458.19,129.81 458.37,127.04 C458.54,124.28 458.72,122.09 459.05,120.64 C459.37,119.19 460.03,119.23 460.30,118.34 C460.58,117.45 460.63,115.80 460.69,115.29" stroke="#11ee11" stroke-width="1.1" stroke-dasharray="4,4"/>
<path d="M520.59,134.69 C520.39,135.99 520.20,136.98 519.99,138.12 C519.79,139.25 519.59,140.17 519.34,141.51 C519.09,142.85 518.81,144.57 518.48,146.15 C518.15,147.73 517.71,149.49 517.35,150.98 C517.00,152.48 516.68,153.79 516.34,155.14 C516.01,156.48 515.69,157.83 515.33,159.06 C514.98,160.29 514.64,161.36 514.21,162.51 C513.78,163.66 513.29,164.91 512.75,165.95 C512.22,166.99 511.59,168.09 511.00,168.74 C510.41,169.39 509.91,169.73 509.19,169.85 C508.47,169.96 507.54,169.78 506.70,169.43 C505.86,169.08 505.06,168.42 504.14,167.74 C503.22,167.06 502.71,166.63 501.18,165.35 C499.64,164.07 497.09,161.82 494.94,160.06 C492.80,158.31 490.50,156.53 488.32,154.83 C486.15,153.13 484.03,151.54 481.88,149.86 C479.74,148.18 477.37,146.39 475.44,144.75 C473.51,143.12 471.88,141.56 470.31,140.07 C468.73,138.57 466.89,136.67 466.00,135.76 C465.11,134.86 465.39,135.13 464.96,134.64 C464.53,134.14 463.96,133.55 463.42,132.81 C462.88,132.08 462.17,131.05 461.73,130.23 C461.29,129.41 461.04,128.61 460.78,127.89 C460.52,127.17 460.34,126.54 460.19,125.91 C460.03,125.28 459.92,124.90 459.86,124.14 C459.80,123.38 459.76,122.32 459.83,121.36 C459.90,120.39 460.16,119.35 460.30,118.34 C460.45,117.33 460.56,116.30 460.69,115.29 C460.82,114.27 460.82,113.96 461.08,112.23 C461.33,110.50 461.78,107.09 462.20,104.90 C462.63,102.71 463.13,101.01 463.63,99.09 C464.13,97.16 464.71,95.05 465.20,93.35 C465.69,91.65 466.13,90.24 466.57,88.90 C467.01,87.56 467.41,86.36 467.84,85.33 C468.28,84.30 468.67,83.40 469.18,82.72 C469.69,82.03 470.22,81.54 470.90,81.20 C471.58,80.86 472.43,80.72 473.28,80.68 C474.12,80.65 475.06,80.72 475.95,81.00 C476.84,81.28 477.28,81.52 478.62,82.37 C479.95,83.22 482.18,84.79 483.96,86.09 C485.74,87.39 487.42,88.78 489.30,90.18 C491.18,91.58 493.26,93.10 495.24,94.50 C497.22,95.90 499.20,97.16 501.18,98.59 C503.16,100.01 505.63,101.94 507.11,103.05 C508.60,104.16 509.34,104.67 510.08,105.25 C510.82,105.83 510.77,105.83 511.57,106.54 C512.36,107.25 513.88,108.58 514.83,109.53 C515.78,110.48 516.52,111.32 517.29,112.24 C518.07,113.16 518.90,114.18 519.46,115.04 C520.02,115.91 520.36,116.62 520.68,117.41 C520.99,118.20 521.20,118.96 521.36,119.80 C521.52,120.65 521.61,121.46 521.66,122.48 C521.71,123.51 521.74,124.64 521.66,125.95 C521.58,127.26 521.36,128.89 521.18,130.35 C521.00,131.81 520.79,133.40 520.59,134.69Z" stroke="#e0943c" stroke-width="1.0" transform="translate(-0.45,0.35)"/>
<path d="M520.59,134.69 C520.39,135.99 520.20,136.98 519.99,138.12 C519.79,139.25 519.59,140.17 519.34,141.51 C519.09,142.85 518.81,144.57 518.48,146.15 C518.15,147.73 517.71,149.49 517.35,150.98 C517.00,152.48 516.68,153.79 516.34,155.14 C516.01,156.48 515.69,157.83 515.33,159.06 C514.98,160.29 514.64,161.36 514.21,162.51 C513.78,163.66 513.29,164.91 512.75,165.95 C512.22,166.99 511.59,168.09 511.00,168.74 C510.41,169.39 509.91,169.73 509.19,169.85 C508.47,169.96 507.54,169.78 506.70,169.43 C505.86,169.08 505.06,168.42 504.14,167.74 C503.22,167.06 502.71,166.63 501.18,165.35 C499.64,164.07 497.09,161.82 494.94,160.06 C492.80,158.31 490.50,156.53 488.32,154.83 C486.15,153.13 484.03,151.54 481.88,149.86 C479.74,148.18 477.37,146.39 475.44,144.75 C473.51,143.12 471.88,141.56 470.31,140.07 C468.73,138.57 466.89,136.67 466.00,135.76 C465.11,134.86 465.39,135.13 464.96,134.64 C464.53,134.14 463.96,133.55 463.42,132.81 C462.88,132.08 462.17,131.05 461.73,130.23 C461.29,129.41 461.04,128.61 460.78,127.89 C460.52,127.17 460.34,126.54 460.19,125.91 C460.03,125.28 459.92,124.90 459.86,124.14 C459.80,123.38 459.76,122.32 459.83,121.36 C459.90,120.39 460.16,119.35 460.30,118.34 C460.45,117.33 460.56,116.30 460.69,115.29 C460.82,114.27 460.82,113.96 461.08,112.23 C461.33,110.50 461.78,107.09 462.20,104.90 C462.63,102.71 463.13,101.01 463.63,99.09 C464.13,97.16 464.71,95.05 465.20,93.35 C465.69,91.65 466.13,90.24 466.57,88.90 C467.01,87.56 467.41,86.36 467.84,85.33 C468.28,84.30 468.67,83.40 469.18,82.72 C469.69,82.03 470.22,81.54 470.90,81.20 C471.58,80.86 472.43,80.72 473.28,80.68 C474.12,80.65 475.06,80.72 475.95,81.00 C476.84,81.28 477.28,81.52 478.62,82.37 C479.95,83.22 482.18,84.79 483.96,86.09 C485.74,87.39 487.42,88.78 489.30,90.18 C491.18,91.58 493.26,93.10 495.24,94.50 C497.22,95.90 499.20,97.16 501.18,98.59 C503.16,100.01 505.63,101.94 507.11,103.05 C508.60,104.16 509.34,104.67 510.08,105.25 C510.82,105.83 510.77,105.83 511.57,106.54 C512.36,107.25 513.88,108.58 514.83,109.53 C515.78,110.48 516.52,111.32 517.29,112.24 C518.07,113.16 518.90,114.18 519.46,115.04 C520.02,115.91 520.36,116.62 520.68,117.41 C520.99,118.20 521.20,118.96 521.36,119.80 C521.52,120.65 521.61,121.46 521.66,122.48 C521.71,123.51 521.74,124.64 521.66,125.95 C521.58,127.26 521.36,128.89 521.18,130.35 C521.00,131.81 520.79,133.40 520.59,134.69Z" stroke="#000" stroke-width="0.9" stroke-dasharray="3,9" stroke-dashoffset="2"/>
<path d="M520.59,134.69 C520.39,135.99 520.20,136.98 519.99,138.12 C519.79,139.25 519.59,140.17 519.34,141.51 C519.09,142.85 518.81,144.57 518.48,146.15 C518.15,147.73 517.71,149.49 517.35,150.98 C517.00,152.48 516.68,153.79 516.34,155.14 C516.01,156.48 515.69,157.83 515.33,159.06 C514.98,160.29 514.64,161.36 514.21,162.51 C513.78,163.66 513.29,164.91 512.75,165.95 C512.22,166.99 511.59,168.09 511.00,168.74 C510.41,169.39 509.91,169.73 509.19,169.85 C508.47,169.96 507.54,169.78 506.70,169.43 C505.86,169.08 505.06,168.42 504.14,167.74 C503.22,167.06 502.71,166.63 501.18,165.35 C499.64,164.07 497.09,161.82 494.94,160.06 C492.80,158.31 490.50,156.53 488.32,154.83 C486.15,153.13 484.03,151.54 481.88,149.86 C479.74,148.18 477.37,146.39 475.44,144.75 C473.51,143.12 471.88,141.56 470.31,140.07 C468.73,138.57 466.89,136.67 466.00,135.76 C465.11,134.86 465.39,135.13 464.96,134.64 C464.53,134.14 463.96,133.55 463.42,132.81 C462.88,132.08 462.17,131.05 461.73,130.23 C461.29,129.41 461.04,128.61 460.78,127.89 C460.52,127.17 460.34,126.54 460.19,125.91 C460.03,125.28 459.92,124.90 459.86,124.14 C459.80,123.38 459.76,122.32 459.83,121.36 C459.90,120.39 460.16,119.35 460.30,118.34 C460.45,117.33 460.56,116.30 460.69,115.29 C460.82,114.27 460.82,113.96 461.08,112.23 C461.33,110.50 461.78,107.09 462.20,104.90 C462.63,102.71 463.13,101.01 463.63,99.09 C464.13,97.16 464.71,95.05 465.20,93.35 C465.69,91.65 466.13,90.24 466.57,88.90 C467.01,87.56 467.41,86.36 467.84,85.33 C468.28,84.30 468.67,83.40 469.18,82.72 C469.69,82.03 470.22,81.54 470.90,81.20 C471.58,80.86 472.43,80.72 473.28,80.68 C474.12,80.65 475.06,80.72 475.95,81.00 C476.84,81.28 477.28,81.52 478.62,82.37 C479.95,83.22 482.18,84.79 483.96,86.09 C485.74,87.39 487.42,88.78 489.30,90.18 C491.18,91.58 493.26,93.10 495.24,94.50 C497.22,95.90 499.20,97.16 501.18,98.59 C503.16,100.01 505.63,101.94 507.11,103.05 C508.60,104.16 509.34,104.67 510.08,105.25 C510.82,105.83 510.77,105.83 511.57,106.54 C512.36,107.25 513.88,108.58 514.83,109.53 C515.78,110.48 516.52,111.32 517.29,112.24 C518.07,113.16 518.90,114.18 519.46,115.04 C520.02,115.91 520.36,116.62 520.68,117.41 C520.99,118.20 521.20,118.96 521.36,119.80 C521.52,120.65 521.61,121.46 521.66,122.48 C521.71,123.51 521.74,124.64 521.66,125.95 C521.58,127.26 521.36,128.89 521.18,130.35 C521.00,131.81 520.79,133.40 520.59,134.69Z" stroke="#1ef01e" stroke-width="1.1" stroke-dasharray="16,1.5"/>
<path d="M469.18,82.72 C469.47,82.46 470.22,81.54 470.90,81.20 C471.58,80.86 472.43,80.72 473.28,80.68 C474.12,80.65 475.06,80.72 475.95,81.00 C476.84,81.28 477.28,81.52 478.62,82.37 C479.95,83.22 482.18,84.79 483.96,86.09 C485.74,87.39 487.42,88.78 489.30,90.18 C491.18,91.58 493.26,93.10 495.24,94.50 C497.22,95.90 499.20,97.16 501.18,98.59 C503.16,100.01 505.63,101.94 507.11,103.05 C508.60,104.16 509.34,104.67 510.08,105.25 C510.82,105.83 510.77,105.83 511.57,106.54 C512.36,107.25 513.88,108.58 514.83,109.53 C515.78,110.48 516.88,111.79 517.29,112.24" stroke="#000" stroke-width="0.8" stroke-dasharray="2.5,2.5" opacity="0.8"/>
<path d="M521.66,122.48 C521.66,123.06 521.74,124.64 521.66,125.95 C521.58,127.26 521.36,128.89 521.18,130.35 C521.00,131.81 520.79,133.40 520.59,134.69 C520.39,135.99 520.20,136.98 519.99,138.12 C519.79,139.25 519.59,140.17 519.34,141.51 C519.09,142.85 518.81,144.57 518.48,146.15 C518.15,147.73 517.71,149.49 517.35,150.98 C517.00,152.48 516.68,153.79 516.34,155.14 C516.01,156.48 515.69,157.83 515.33,159.06 C514.98,160.29 514.64,161.36 514.21,162.51 C513.78,163.66 513.29,164.91 512.75,165.95 C512.22,166.99 511.29,168.28 511.00,168.74" stroke="#000" stroke-width="0.8" stroke-dasharray="2.5,3" opacity="0.85"/>
<path d="M463.42,132.81 C463.14,132.38 462.17,131.05 461.73,130.23 C461.29,129.41 461.04,128.61 460.78,127.89 C460.52,127.17 460.34,126.54 460.19,125.91 C460.03,125.28 459.92,124.90 459.86,124.14 C459.80,123.38 459.76,122.32 459.83,121.36 C459.90,120.39 460.16,119.35 460.30,118.34 C460.45,117.33 460.56,116.30 460.69,115.29 C460.82,114.27 460.82,113.96 461.08,112.23 C461.33,110.50 461.78,107.09 462.20,104.90 C462.63,102.71 463.13,101.01 463.63,99.09 C464.13,97.16 464.71,95.05 465.20,93.35 C465.69,91.65 466.13,90.24 466.57,88.90 C467.01,87.56 467.41,86.36 467.84,85.33 C468.28,84.30 468.96,83.15 469.18,82.72" stroke="#000" stroke-width="0.9" stroke-dasharray="2,2.5"/>
</g>
<g fill="none">
<path d="M482.44,199.30 C480.68,198.12 475.42,194.55 471.93,192.18 C468.44,189.80 464.98,187.41 461.51,185.04 C458.04,182.68 454.49,180.30 451.12,177.97 C447.75,175.64 443.66,172.81 441.27,171.06 C438.87,169.30 438.14,168.59 436.75,167.44 C435.37,166.29 434.18,165.23 432.96,164.16 C431.73,163.08 430.51,162.11 429.39,160.99 C428.28,159.86 427.21,158.67 426.25,157.40 C425.28,156.13 424.36,154.80 423.61,153.36 C422.85,151.93 422.22,150.29 421.74,148.80 C421.26,147.31 420.93,145.85 420.73,144.41 C420.52,142.96 420.50,141.61 420.50,140.15 C420.51,138.69 420.59,137.18 420.76,135.65 C420.94,134.11 421.29,132.50 421.54,130.92 C421.79,129.35 421.95,128.03 422.26,126.17 C422.57,124.32 422.99,121.81 423.41,119.78 C423.83,117.74 424.21,115.91 424.79,113.95 C425.37,111.98 426.13,109.95 426.90,107.99 C427.67,106.04 428.56,104.06 429.39,102.22 C430.23,100.37 431.09,98.46 431.89,96.91 C432.69,95.35 433.44,94.31 434.20,92.89 C434.96,91.47 435.65,89.62 436.46,88.39 C437.26,87.16 438.18,86.25 439.04,85.52 C439.90,84.80 440.74,84.40 441.62,84.04 C442.51,83.68 443.36,83.36 444.35,83.36 C445.35,83.36 446.43,83.53 447.59,84.03 C448.75,84.52 449.81,85.23 451.33,86.31 C452.85,87.39 454.92,89.02 456.70,90.51 C458.49,92.00 460.16,93.65 462.04,95.24 C463.92,96.84 466.00,98.51 467.98,100.07 C469.96,101.63 471.94,103.10 473.92,104.62 C475.90,106.15 478.37,108.08 479.85,109.22 C481.34,110.35 482.08,110.82 482.82,111.42 C483.56,112.02 483.51,112.04 484.31,112.80 C485.10,113.57 486.62,114.99 487.57,116.02 C488.52,117.06 489.26,118.04 490.03,119.01 C490.81,119.98 491.63,120.97 492.20,121.86 C492.77,122.75 493.16,123.51 493.48,124.35 C493.80,125.19 493.97,126.01 494.13,126.91 C494.29,127.82 494.38,128.74 494.43,129.78 C494.48,130.82 494.51,131.84 494.43,133.15 C494.34,134.46 494.11,136.16 493.92,137.63 C493.74,139.10 493.53,140.68 493.33,141.97 C493.13,143.27 492.83,144.83 492.73,145.40" stroke="#4a95d8" stroke-width="1.15"/>
<path d="M482.44,199.30 C480.68,198.12 475.42,194.55 471.93,192.18 C468.44,189.80 464.98,187.41 461.51,185.04 C458.04,182.68 454.49,180.30 451.12,177.97 C447.75,175.64 443.66,172.81 441.27,171.06 C438.87,169.30 438.14,168.59 436.75,167.44 C435.37,166.29 434.18,165.23 432.96,164.16 C431.73,163.08 430.51,162.11 429.39,160.99 C428.28,159.86 427.21,158.67 426.25,157.40 C425.28,156.13 424.36,154.80 423.61,153.36 C422.85,151.93 422.22,150.29 421.74,148.80 C421.26,147.31 420.93,145.85 420.73,144.41 C420.52,142.96 420.50,141.61 420.50,140.15 C420.51,138.69 420.59,137.18 420.76,135.65 C420.94,134.11 421.29,132.50 421.54,130.92 C421.79,129.35 421.95,128.03 422.26,126.17 C422.57,124.32 422.99,121.81 423.41,119.78 C423.83,117.74 424.21,115.91 424.79,113.95 C425.37,111.98 426.13,109.95 426.90,107.99 C427.67,106.04 428.56,104.06 429.39,102.22 C430.23,100.37 431.09,98.46 431.89,96.91 C432.69,95.35 433.44,94.31 434.20,92.89 C434.96,91.47 435.65,89.62 436.46,88.39 C437.26,87.16 438.18,86.25 439.04,85.52 C439.90,84.80 440.74,84.40 441.62,84.04 C442.51,83.68 443.36,83.36 444.35,83.36 C445.35,83.36 446.43,83.53 447.59,84.03 C448.75,84.52 449.81,85.23 451.33,86.31 C452.85,87.39 454.92,89.02 456.70,90.51 C458.49,92.00 460.16,93.65 462.04,95.24 C463.92,96.84 466.00,98.51 467.98,100.07 C469.96,101.63 471.94,103.10 473.92,104.62 C475.90,106.15 478.37,108.08 479.85,109.22 C481.34,110.35 482.08,110.82 482.82,111.42 C483.56,112.02 483.51,112.04 484.31,112.80 C485.10,113.57 486.62,114.99 487.57,116.02 C488.52,117.06 489.26,118.04 490.03,119.01 C490.81,119.98 491.63,120.97 492.20,121.86 C492.77,122.75 493.16,123.51 493.48,124.35 C493.80,125.19 493.97,126.01 494.13,126.91 C494.29,127.82 494.38,128.74 494.43,129.78 C494.48,130.82 494.51,131.84 494.43,133.15 C494.34,134.46 494.11,136.16 493.92,137.63 C493.74,139.10 493.53,140.68 493.33,141.97 C493.13,143.27 492.83,144.83 492.73,145.40" stroke="#000" stroke-width="0.9" stroke-dasharray="2.5,4.5" stroke-dashoffset="3"/>
<path d="M482.44,199.30 C480.68,198.12 475.42,194.55 471.93,192.18 C468.44,189.80 464.98,187.41 461.51,185.04 C458.04,182.68 454.49,180.30 451.12,177.97 C447.75,175.64 443.66,172.81 441.27,171.06 C438.87,169.30 438.14,168.59 436.75,167.44 C435.37,166.29 434.18,165.23 432.96,164.16 C431.73,163.08 430.51,162.11 429.39,160.99 C428.28,159.86 427.21,158.67 426.25,157.40 C425.28,156.13 424.36,154.80 423.61,153.36 C422.85,151.93 422.22,150.29 421.74,148.80 C421.26,147.31 420.93,145.85 420.73,144.41 C420.52,142.96 420.50,141.61 420.50,140.15 C420.51,138.69 420.59,137.18 420.76,135.65 C420.94,134.11 421.29,132.50 421.54,130.92 C421.79,129.35 421.95,128.03 422.26,126.17 C422.57,124.32 422.99,121.81 423.41,119.78 C423.83,117.74 424.21,115.91 424.79,113.95 C425.37,111.98 426.13,109.95 426.90,107.99 C427.67,106.04 428.56,104.06 429.39,102.22 C430.23,100.37 431.09,98.46 431.89,96.91 C432.69,95.35 433.44,94.31 434.20,92.89 C434.96,91.47 435.65,89.62 436.46,88.39 C437.26,87.16 438.18,86.25 439.04,85.52 C439.90,84.80 440.74,84.40 441.62,84.04 C442.51,83.68 443.36,83.36 444.35,83.36 C445.35,83.36 446.43,83.53 447.59,84.03 C448.75,84.52 449.81,85.23 451.33,86.31 C452.85,87.39 454.92,89.02 456.70,90.51 C458.49,92.00 460.16,93.65 462.04,95.24 C463.92,96.84 466.00,98.51 467.98,100.07 C469.96,101.63 471.94,103.10 473.92,104.62 C475.90,106.15 478.37,108.08 479.85,109.22 C481.34,110.35 482.08,110.82 482.82,111.42 C483.56,112.02 483.51,112.04 484.31,112.80 C485.10,113.57 486.62,114.99 487.57,116.02 C488.52,117.06 489.26,118.04 490.03,119.01 C490.81,119.98 491.63,120.97 492.20,121.86 C492.77,122.75 493.16,123.51 493.48,124.35 C493.80,125.19 493.97,126.01 494.13,126.91 C494.29,127.82 494.38,128.74 494.43,129.78 C494.48,130.82 494.51,131.84 494.43,133.15 C494.34,134.46 494.11,136.16 493.92,137.63 C493.74,139.10 493.53,140.68 493.33,141.97 C493.13,143.27 492.83,144.83 492.73,145.40" stroke="#22e822" stroke-width="1.1" stroke-dasharray="5,4"/>
<path d="M493.33,141.97 C493.13,143.27 492.94,144.26 492.73,145.40 C492.53,146.53 492.33,147.45 492.08,148.79 C491.83,150.13 491.55,151.85 491.22,153.43 C490.89,155.01 490.45,156.77 490.09,158.26 C489.74,159.76 489.42,161.07 489.08,162.42 C488.75,163.76 488.43,165.11 488.07,166.34 C487.72,167.57 487.38,168.64 486.95,169.79 C486.52,170.94 486.03,172.19 485.49,173.23 C484.96,174.27 484.33,175.37 483.74,176.02 C483.15,176.67 482.65,177.01 481.93,177.13 C481.21,177.24 480.28,177.06 479.44,176.71 C478.60,176.36 477.80,175.70 476.88,175.02 C475.96,174.34 475.45,173.91 473.92,172.63 C472.38,171.35 469.83,169.10 467.68,167.34 C465.54,165.59 463.24,163.81 461.06,162.11 C458.89,160.41 456.77,158.82 454.62,157.14 C452.48,155.46 450.11,153.67 448.18,152.03 C446.25,150.40 444.62,148.84 443.05,147.35 C441.47,145.85 439.63,143.95 438.74,143.04 C437.85,142.14 438.13,142.41 437.70,141.92 C437.27,141.42 436.70,140.83 436.16,140.09 C435.62,139.36 434.91,138.33 434.47,137.51 C434.03,136.69 433.78,135.89 433.52,135.17 C433.26,134.45 433.08,133.82 432.93,133.19 C432.77,132.56 432.66,132.18 432.60,131.42 C432.54,130.66 432.50,129.60 432.57,128.64 C432.64,127.67 432.90,126.63 433.04,125.62 C433.19,124.61 433.30,123.58 433.43,122.57 C433.56,121.55 433.56,121.24 433.82,119.51 C434.07,117.78 434.52,114.37 434.94,112.18 C435.37,109.99 435.87,108.29 436.37,106.37 C436.87,104.44 437.45,102.33 437.94,100.63 C438.43,98.93 438.87,97.52 439.31,96.18 C439.75,94.84 440.15,93.64 440.58,92.61 C441.02,91.58 441.41,90.68 441.92,90.00 C442.43,89.31 442.96,88.82 443.64,88.48 C444.32,88.14 445.17,88.00 446.02,87.96 C446.86,87.93 447.80,88.00 448.69,88.28 C449.58,88.56 450.02,88.80 451.36,89.65 C452.69,90.50 454.92,92.07 456.70,93.37 C458.48,94.67 460.16,96.06 462.04,97.46 C463.92,98.86 466.00,100.38 467.98,101.78 C469.96,103.18 471.94,104.44 473.92,105.87 C475.90,107.29 478.37,109.22 479.85,110.33 C481.34,111.44 482.08,111.95 482.82,112.53 C483.56,113.11 483.51,113.11 484.31,113.82 C485.10,114.53 486.62,115.86 487.57,116.81 C488.52,117.76 489.26,118.60 490.03,119.52 C490.81,120.44 491.64,121.46 492.20,122.32 C492.76,123.19 493.10,123.90 493.42,124.69 C493.73,125.48 493.94,126.24 494.10,127.08 C494.26,127.93 494.35,128.74 494.40,129.76 C494.45,130.79 494.48,131.92 494.40,133.23 C494.32,134.54 494.10,136.17 493.92,137.63 C493.74,139.09 493.53,140.68 493.33,141.97Z" stroke="#18a8a0" stroke-width="1.15"/>
<path d="M493.33,141.97 C493.13,143.27 492.94,144.26 492.73,145.40 C492.53,146.53 492.33,147.45 492.08,148.79 C491.83,150.13 491.55,151.85 491.22,153.43 C490.89,155.01 490.45,156.77 490.09,158.26 C489.74,159.76 489.42,161.07 489.08,162.42 C488.75,163.76 488.43,165.11 488.07,166.34 C487.72,167.57 487.38,168.64 486.95,169.79 C486.52,170.94 486.03,172.19 485.49,173.23 C484.96,174.27 484.33,175.37 483.74,176.02 C483.15,176.67 482.65,177.01 481.93,177.13 C481.21,177.24 480.28,177.06 479.44,176.71 C478.60,176.36 477.80,175.70 476.88,175.02 C475.96,174.34 475.45,173.91 473.92,172.63 C472.38,171.35 469.83,169.10 467.68,167.34 C465.54,165.59 463.24,163.81 461.06,162.11 C458.89,160.41 456.77,158.82 454.62,157.14 C452.48,155.46 450.11,153.67 448.18,152.03 C446.25,150.40 444.62,148.84 443.05,147.35 C441.47,145.85 439.63,143.95 438.74,143.04 C437.85,142.14 438.13,142.41 437.70,141.92 C437.27,141.42 436.70,140.83 436.16,140.09 C435.62,139.36 434.91,138.33 434.47,137.51 C434.03,136.69 433.78,135.89 433.52,135.17 C433.26,134.45 433.08,133.82 432.93,133.19 C432.77,132.56 432.66,132.18 432.60,131.42 C432.54,130.66 432.50,129.60 432.57,128.64 C432.64,127.67 432.90,126.63 433.04,125.62 C433.19,124.61 433.30,123.58 433.43,122.57 C433.56,121.55 433.56,121.24 433.82,119.51 C434.07,117.78 434.52,114.37 434.94,112.18 C435.37,109.99 435.87,108.29 436.37,106.37 C436.87,104.44 437.45,102.33 437.94,100.63 C438.43,98.93 438.87,97.52 439.31,96.18 C439.75,94.84 440.15,93.64 440.58,92.61 C441.02,91.58 441.41,90.68 441.92,90.00 C442.43,89.31 442.96,88.82 443.64,88.48 C444.32,88.14 445.17,88.00 446.02,87.96 C446.86,87.93 447.80,88.00 448.69,88.28 C449.58,88.56 450.02,88.80 451.36,89.65 C452.69,90.50 454.92,92.07 456.70,93.37 C458.48,94.67 460.16,96.06 462.04,97.46 C463.92,98.86 466.00,100.38 467.98,101.78 C469.96,103.18 471.94,104.44 473.92,105.87 C475.90,107.29 478.37,109.22 479.85,110.33 C481.34,111.44 482.08,111.95 482.82,112.53 C483.56,113.11 483.51,113.11 484.31,113.82 C485.10,114.53 486.62,115.86 487.57,116.81 C488.52,117.76 489.26,118.60 490.03,119.52 C490.81,120.44 491.64,121.46 492.20,122.32 C492.76,123.19 493.10,123.90 493.42,124.69 C493.73,125.48 493.94,126.24 494.10,127.08 C494.26,127.93 494.35,128.74 494.40,129.76 C494.45,130.79 494.48,131.92 494.40,133.23 C494.32,134.54 494.10,136.17 493.92,137.63 C493.74,139.09 493.53,140.68 493.33,141.97Z" stroke="#22e822" stroke-width="1.1" stroke-dasharray="4,4"/>
<path d="M436.16,140.09 C435.88,139.66 434.91,138.33 434.47,137.51 C434.03,136.69 433.78,135.89 433.52,135.17 C433.26,134.45 433.08,133.82 432.93,133.19 C432.77,132.56 432.66,132.18 432.60,131.42 C432.54,130.66 432.50,129.60 432.57,128.64 C432.64,127.67 432.90,126.63 433.04,125.62 C433.19,124.61 433.30,123.58 433.43,122.57 C433.56,121.55 433.56,121.24 433.82,119.51 C434.07,117.78 434.52,114.37 434.94,112.18 C435.37,109.99 435.87,108.29 436.37,106.37 C436.87,104.44 437.45,102.33 437.94,100.63 C438.43,98.93 438.87,97.52 439.31,96.18 C439.75,94.84 440.15,93.64 440.58,92.61 C441.02,91.58 441.70,90.43 441.92,90.00" stroke="#000" stroke-width="0.9" stroke-dasharray="2,2.5"/>
</g>
<g font-family="Liberation Serif, serif" font-size="15.6" fill="#474747">
<text transform="translate(9.60,273.00) scale(1.180,1)" textLength="19.07" lengthAdjust="spacing">(a)</text>
<text transform="translate(38.20,273.00) scale(1.180,1)" textLength="78.31" lengthAdjust="spacing">Comparison</text>
<text transform="translate(137.40,273.00) scale(1.180,1)" textLength="11.78" lengthAdjust="spacing">of</text>
<text transform="translate(156.20,273.00) scale(1.180,1)" textLength="60.08" lengthAdjust="spacing">transient</text>
<text transform="translate(234.00,273.00) scale(1.180,1)" textLength="55.34" lengthAdjust="spacing">response</text>
<text transform="translate(352.10,269.00) scale(1.180,1)" textLength="19.07" lengthAdjust="spacing">(b)</text>
<text transform="translate(381.40,269.00) scale(1.180,1)" textLength="78.73" lengthAdjust="spacing">Comparison</text>
<text transform="translate(480.70,269.00) scale(1.180,1)" textLength="11.02" lengthAdjust="spacing">of</text>
<text transform="translate(498.00,269.00) scale(1.180,1)" textLength="61.36" lengthAdjust="spacing">transient</text>
<text transform="translate(577.20,269.00) scale(1.180,1)" textLength="55.17" lengthAdjust="spacing">response</text>
<text transform="translate(649.90,269.00) scale(1.180,1)" textLength="29.32" lengthAdjust="spacing">(3D)</text>
</g>
</svg>
</body></html>
